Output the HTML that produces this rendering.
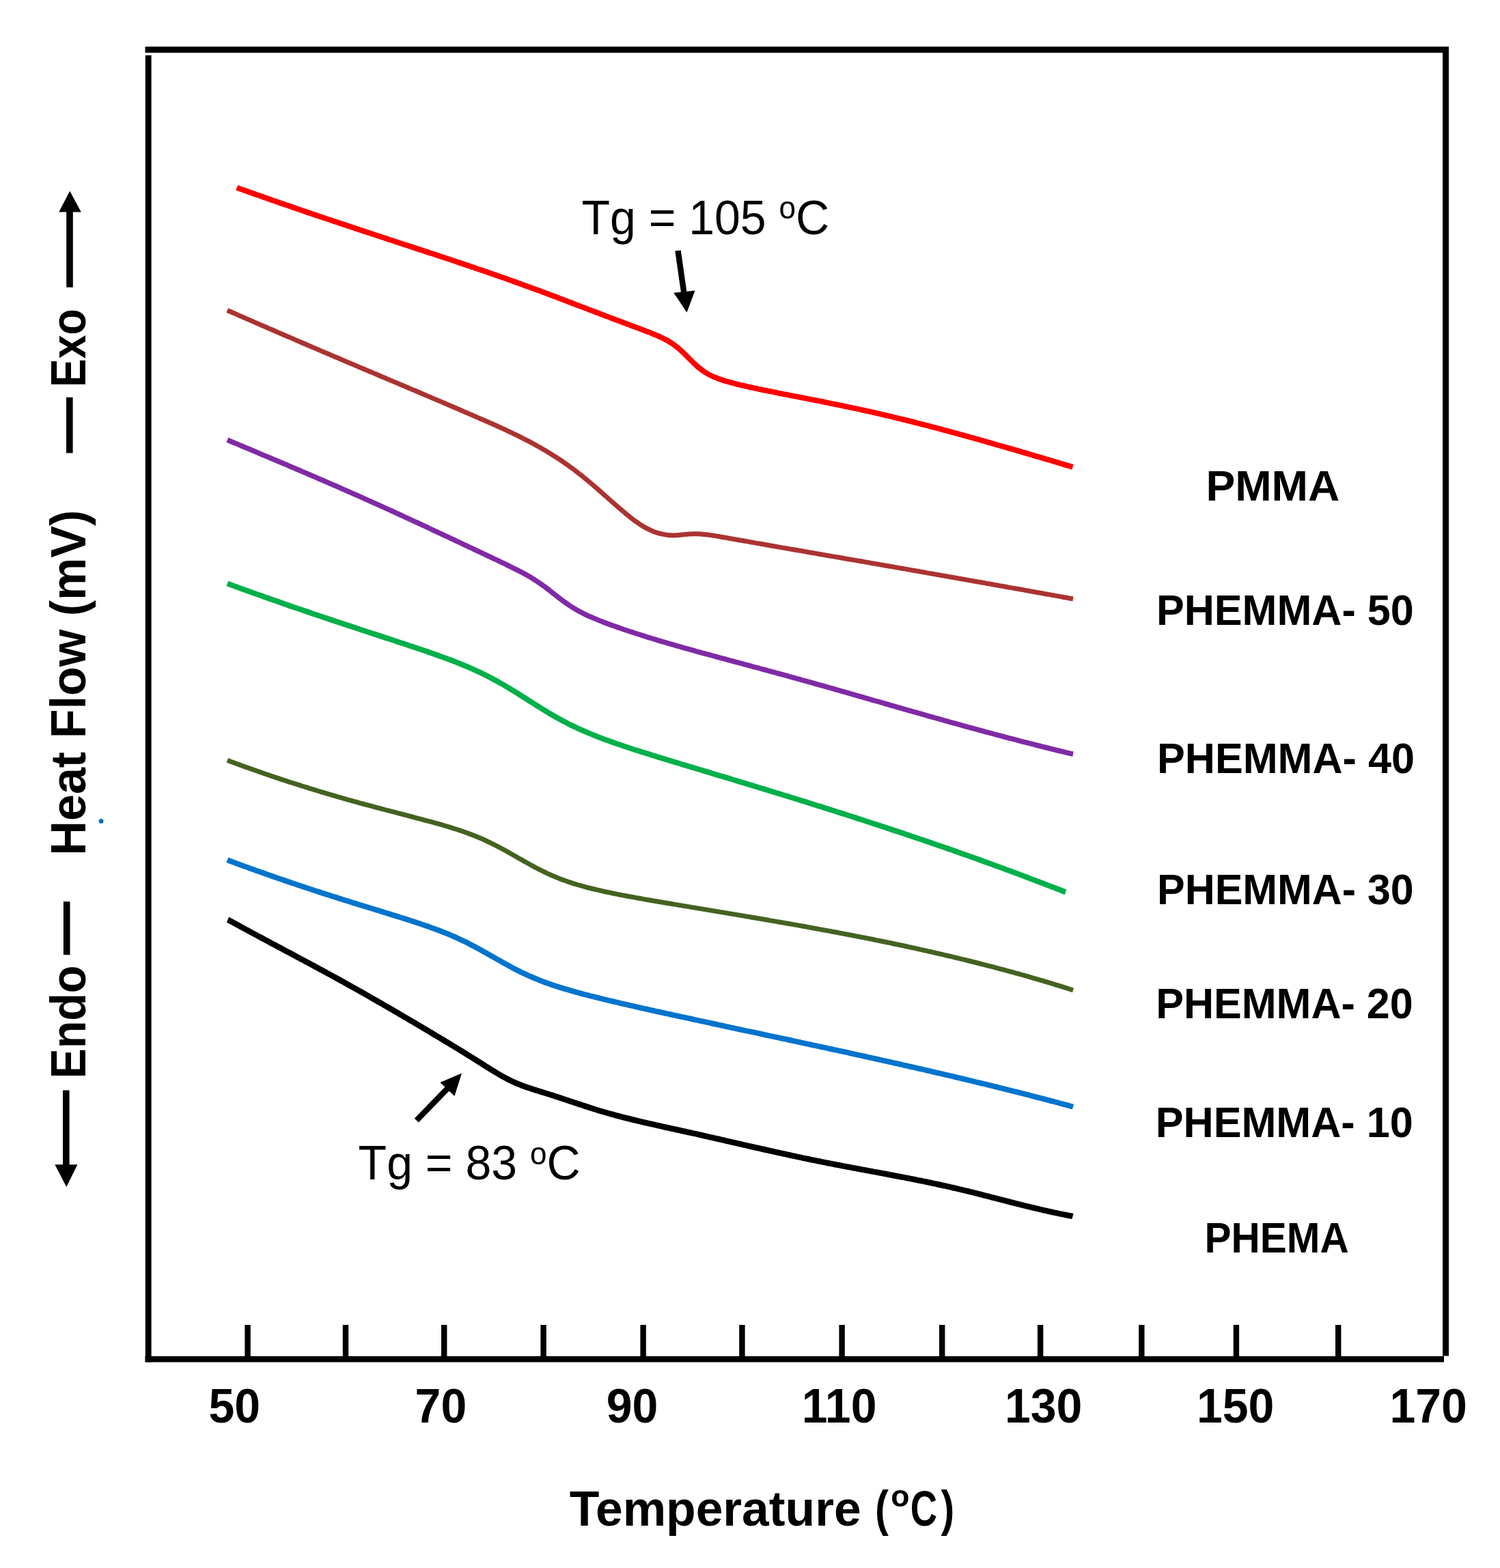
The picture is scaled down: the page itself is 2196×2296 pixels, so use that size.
<!DOCTYPE html>
<html lang="en"><head><meta charset="utf-8"><title>DSC thermograms</title>
<style>html,body{margin:0;padding:0;background:#fff;}svg{display:block;}text{font-family:"Liberation Sans",Arial,sans-serif;}.b{font-weight:bold;}</style></head><body>
<svg xmlns="http://www.w3.org/2000/svg" width="2196" height="2296" viewBox="0 0 2196 2296">
<rect x="0" y="0" width="2196" height="2296" fill="#fff"/>
<g fill="#000">
<rect x="212.5" y="68.3" width="1908.5" height="9"/>
<rect x="212.8" y="81" width="8.8" height="1913.5"/>
<rect x="2112" y="72.5" width="9" height="1913"/>
<rect x="212.5" y="1985.8" width="1901.5" height="8.8"/>
<rect x="358.4" y="1940" width="8.4" height="50"/>
<rect x="501.8" y="1940" width="8.4" height="50"/>
<rect x="646.0" y="1940" width="8.4" height="50"/>
<rect x="791.4" y="1940" width="8.4" height="50"/>
<rect x="937.4" y="1940" width="8.4" height="50"/>
<rect x="1082.2" y="1940" width="8.4" height="50"/>
<rect x="1228.4" y="1940" width="8.4" height="50"/>
<rect x="1375.0" y="1940" width="8.4" height="50"/>
<rect x="1518.9" y="1940" width="8.4" height="50"/>
<rect x="1667.1" y="1940" width="8.4" height="50"/>
<rect x="1805.7" y="1940" width="8.4" height="50"/>
<rect x="1955.0" y="1940" width="8.4" height="50"/>
</g>
<g fill="none" stroke-linecap="butt" stroke-linejoin="round">
<path d="M346.8,274.8 C347.8,275.2 350.8,276.3 352.8,277.0 C354.8,277.7 356.8,278.4 358.9,279.1 C360.9,279.8 362.9,280.5 364.9,281.3 C366.9,282.0 368.9,282.7 370.9,283.4 C372.9,284.1 374.9,284.8 376.9,285.5 C378.9,286.2 381.0,286.9 383.0,287.6 C385.0,288.3 387.0,289.0 389.0,289.8 C391.0,290.5 393.0,291.2 395.0,291.9 C397.0,292.6 399.0,293.3 401.1,294.0 C403.1,294.7 405.1,295.4 407.1,296.1 C409.1,296.8 411.1,297.5 413.1,298.1 C415.1,298.8 417.1,299.5 419.1,300.2 C421.1,300.9 423.2,301.6 425.2,302.3 C427.2,303.0 429.2,303.7 431.2,304.4 C433.2,305.1 435.2,305.8 437.2,306.5 C439.2,307.1 441.2,307.8 443.2,308.5 C445.3,309.2 447.3,309.9 449.3,310.6 C451.3,311.3 453.3,311.9 455.3,312.6 C457.3,313.3 459.3,314.0 461.3,314.7 C463.3,315.3 465.4,316.0 467.4,316.7 C469.4,317.4 471.4,318.1 473.4,318.7 C475.4,319.4 477.4,320.1 479.4,320.8 C481.4,321.5 483.4,322.1 485.4,322.8 C487.5,323.5 489.5,324.1 491.5,324.8 C493.5,325.5 495.5,326.2 497.5,326.8 C499.5,327.5 501.5,328.2 503.5,328.9 C505.5,329.5 507.5,330.2 509.6,330.9 C511.6,331.5 513.6,332.2 515.6,332.9 C517.6,333.5 519.6,334.2 521.6,334.9 C523.6,335.5 525.6,336.2 527.6,336.9 C529.7,337.5 531.7,338.2 533.7,338.9 C535.7,339.5 537.7,340.2 539.7,340.8 C541.7,341.5 543.7,342.2 545.7,342.8 C547.7,343.5 549.7,344.2 551.8,344.8 C553.8,345.5 555.8,346.1 557.8,346.8 C559.8,347.5 561.8,348.1 563.8,348.8 C565.8,349.4 567.8,350.1 569.8,350.8 C571.8,351.4 573.9,352.1 575.9,352.7 C577.9,353.4 579.9,354.1 581.9,354.7 C583.9,355.4 585.9,356.0 587.9,356.7 C589.9,357.4 591.9,358.0 594.0,358.7 C596.0,359.3 598.0,360.0 600.0,360.7 C602.0,361.3 604.0,362.0 606.0,362.6 C608.0,363.3 610.0,363.9 612.0,364.6 C614.0,365.3 616.1,365.9 618.1,366.6 C620.1,367.2 622.1,367.9 624.1,368.6 C626.1,369.2 628.1,369.9 630.1,370.6 C632.1,371.2 634.1,371.9 636.1,372.5 C638.2,373.2 640.2,373.9 642.2,374.5 C644.2,375.2 646.2,375.9 648.2,376.5 C650.2,377.2 652.2,377.9 654.2,378.5 C656.2,379.2 658.3,379.9 660.3,380.5 C662.3,381.2 664.3,381.9 666.3,382.5 C668.3,383.2 670.3,383.9 672.3,384.6 C674.3,385.2 676.3,385.9 678.3,386.6 C680.4,387.3 682.4,387.9 684.4,388.6 C686.4,389.3 688.4,390.0 690.4,390.7 C692.4,391.3 694.4,392.0 696.4,392.7 C698.4,393.4 700.4,394.1 702.5,394.8 C704.5,395.4 706.5,396.1 708.5,396.8 C710.5,397.5 712.5,398.2 714.5,398.9 C716.5,399.6 718.5,400.3 720.5,401.0 C722.6,401.7 724.6,402.4 726.6,403.1 C728.6,403.8 730.6,404.5 732.6,405.2 C734.6,405.9 736.6,406.6 738.6,407.3 C740.6,408.0 742.6,408.7 744.7,409.5 C746.7,410.2 748.7,410.9 750.7,411.6 C752.7,412.3 754.7,413.0 756.7,413.8 C758.7,414.5 760.7,415.2 762.7,415.9 C764.7,416.7 766.8,417.4 768.8,418.1 C770.8,418.8 772.8,419.6 774.8,420.3 C776.8,421.0 778.8,421.8 780.8,422.5 C782.8,423.3 784.8,424.0 786.8,424.7 C788.9,425.5 790.9,426.2 792.9,427.0 C794.9,427.7 796.9,428.5 798.9,429.2 C800.9,430.0 802.9,430.7 804.9,431.5 C806.9,432.2 809.0,433.0 811.0,433.7 C813.0,434.5 815.0,435.2 817.0,436.0 C819.0,436.8 821.0,437.5 823.0,438.3 C825.0,439.0 827.0,439.8 829.0,440.6 C831.1,441.3 833.1,442.1 835.1,442.9 C837.1,443.6 839.1,444.4 841.1,445.2 C843.1,445.9 845.1,446.7 847.1,447.5 C849.1,448.2 851.1,449.0 853.2,449.8 C855.2,450.5 857.2,451.3 859.2,452.1 C861.2,452.9 863.2,453.6 865.2,454.4 C867.2,455.2 869.2,455.9 871.2,456.7 C873.3,457.5 875.3,458.2 877.3,459.0 C879.3,459.8 881.3,460.5 883.3,461.3 C885.3,462.1 887.3,462.8 889.3,463.6 C891.3,464.4 893.3,465.1 895.4,465.9 C897.4,466.6 899.4,467.4 901.4,468.2 C903.4,468.9 905.4,469.7 907.4,470.4 C909.4,471.2 911.4,471.9 913.4,472.7 C915.4,473.4 917.5,474.2 919.5,474.9 C921.5,475.7 923.5,476.4 925.5,477.2 C927.5,477.9 929.5,478.7 931.5,479.4 C933.5,480.2 935.5,480.9 937.6,481.7 C939.6,482.4 941.6,483.2 943.6,484.0 C945.6,484.7 947.6,485.5 949.6,486.3 C951.6,487.0 953.6,487.8 955.6,488.7 C957.6,489.5 959.7,490.3 961.7,491.2 C963.7,492.0 965.7,492.9 967.7,493.9 C969.7,494.8 971.7,495.8 973.7,496.9 C975.7,497.9 977.7,499.0 979.7,500.3 C981.8,501.5 983.8,502.8 985.8,504.2 C987.8,505.6 989.8,507.2 991.8,508.8 C993.8,510.5 995.8,512.2 997.8,514.1 C999.8,515.9 1001.9,517.9 1003.9,519.9 C1005.9,521.9 1007.9,524.0 1009.9,526.0 C1011.9,528.0 1013.9,530.0 1015.9,531.9 C1017.9,533.8 1019.9,535.7 1021.9,537.4 C1024.0,539.1 1026.0,540.7 1028.0,542.1 C1030.0,543.6 1032.0,544.9 1034.0,546.1 C1036.0,547.3 1038.0,548.4 1040.0,549.5 C1042.0,550.5 1044.0,551.4 1046.1,552.2 C1048.1,553.1 1050.1,553.9 1052.1,554.6 C1054.1,555.3 1056.1,556.0 1058.1,556.7 C1060.1,557.3 1062.1,557.9 1064.1,558.5 C1066.2,559.1 1068.2,559.7 1070.2,560.2 C1072.2,560.7 1074.2,561.3 1076.2,561.8 C1078.2,562.3 1080.2,562.8 1082.2,563.3 C1084.2,563.7 1086.2,564.2 1088.3,564.7 C1090.3,565.2 1092.3,565.6 1094.3,566.1 C1096.3,566.5 1098.3,567.0 1100.3,567.4 C1102.3,567.8 1104.3,568.3 1106.3,568.7 C1108.3,569.1 1110.4,569.6 1112.4,570.0 C1114.4,570.4 1116.4,570.8 1118.4,571.3 C1120.4,571.7 1122.4,572.1 1124.4,572.5 C1126.4,572.9 1128.4,573.3 1130.5,573.7 C1132.5,574.1 1134.5,574.5 1136.5,574.9 C1138.5,575.3 1140.5,575.7 1142.5,576.1 C1144.5,576.5 1146.5,576.9 1148.5,577.3 C1150.5,577.7 1152.6,578.1 1154.6,578.5 C1156.6,578.9 1158.6,579.3 1160.6,579.7 C1162.6,580.1 1164.6,580.5 1166.6,580.8 C1168.6,581.2 1170.6,581.6 1172.6,582.0 C1174.7,582.4 1176.7,582.8 1178.7,583.2 C1180.7,583.6 1182.7,584.0 1184.7,584.4 C1186.7,584.8 1188.7,585.2 1190.7,585.5 C1192.7,585.9 1194.7,586.3 1196.8,586.7 C1198.8,587.1 1200.8,587.5 1202.8,587.9 C1204.8,588.3 1206.8,588.7 1208.8,589.1 C1210.8,589.5 1212.8,589.9 1214.8,590.3 C1216.9,590.7 1218.9,591.1 1220.9,591.6 C1222.9,592.0 1224.9,592.4 1226.9,592.8 C1228.9,593.2 1230.9,593.6 1232.9,594.0 C1234.9,594.4 1236.9,594.9 1239.0,595.3 C1241.0,595.7 1243.0,596.1 1245.0,596.6 C1247.0,597.0 1249.0,597.4 1251.0,597.8 C1253.0,598.3 1255.0,598.7 1257.0,599.1 C1259.0,599.6 1261.1,600.0 1263.1,600.5 C1265.1,600.9 1267.1,601.3 1269.1,601.8 C1271.1,602.2 1273.1,602.7 1275.1,603.1 C1277.1,603.6 1279.1,604.0 1281.2,604.5 C1283.2,605.0 1285.2,605.4 1287.2,605.9 C1289.2,606.4 1291.2,606.8 1293.2,607.3 C1295.2,607.8 1297.2,608.2 1299.2,608.7 C1301.2,609.2 1303.3,609.7 1305.3,610.1 C1307.3,610.6 1309.3,611.1 1311.3,611.6 C1313.3,612.1 1315.3,612.6 1317.3,613.1 C1319.3,613.5 1321.3,614.0 1323.3,614.5 C1325.4,615.0 1327.4,615.5 1329.4,616.0 C1331.4,616.5 1333.4,617.0 1335.4,617.5 C1337.4,618.0 1339.4,618.6 1341.4,619.1 C1343.4,619.6 1345.5,620.1 1347.5,620.6 C1349.5,621.1 1351.5,621.6 1353.5,622.2 C1355.5,622.7 1357.5,623.2 1359.5,623.7 C1361.5,624.3 1363.5,624.8 1365.5,625.3 C1367.6,625.8 1369.6,626.4 1371.6,626.9 C1373.6,627.4 1375.6,628.0 1377.6,628.5 C1379.6,629.0 1381.6,629.6 1383.6,630.1 C1385.6,630.7 1387.6,631.2 1389.7,631.7 C1391.7,632.3 1393.7,632.8 1395.7,633.4 C1397.7,633.9 1399.7,634.5 1401.7,635.0 C1403.7,635.6 1405.7,636.1 1407.7,636.7 C1409.8,637.2 1411.8,637.8 1413.8,638.4 C1415.8,638.9 1417.8,639.5 1419.8,640.0 C1421.8,640.6 1423.8,641.2 1425.8,641.7 C1427.8,642.3 1429.8,642.8 1431.9,643.4 C1433.9,644.0 1435.9,644.5 1437.9,645.1 C1439.9,645.7 1441.9,646.2 1443.9,646.8 C1445.9,647.4 1447.9,648.0 1449.9,648.5 C1451.9,649.1 1454.0,649.7 1456.0,650.3 C1458.0,650.8 1460.0,651.4 1462.0,652.0 C1464.0,652.6 1466.0,653.1 1468.0,653.7 C1470.0,654.3 1472.0,654.9 1474.1,655.5 C1476.1,656.0 1478.1,656.6 1480.1,657.2 C1482.1,657.8 1484.1,658.4 1486.1,658.9 C1488.1,659.5 1490.1,660.1 1492.1,660.7 C1494.1,661.3 1496.2,661.9 1498.2,662.5 C1500.2,663.0 1502.2,663.6 1504.2,664.2 C1506.2,664.8 1508.2,665.4 1510.2,666.0 C1512.2,666.6 1514.2,667.2 1516.2,667.8 C1518.3,668.4 1520.3,669.0 1522.3,669.5 C1524.3,670.1 1526.3,670.7 1528.3,671.3 C1530.3,671.9 1532.3,672.5 1534.3,673.1 C1536.3,673.7 1538.4,674.3 1540.4,674.9 C1542.4,675.5 1544.4,676.1 1546.4,676.7 C1548.4,677.3 1550.4,677.9 1552.4,678.5 C1554.4,679.1 1556.4,679.7 1558.4,680.3 C1560.5,680.9 1562.5,681.5 1564.5,682.1 C1566.5,682.7 1569.5,683.6 1570.5,683.9" stroke="#ff0000" stroke-width="8.0"/>
<path d="M332.8,454.4 C333.5,454.7 335.5,455.6 336.8,456.1 C338.1,456.7 339.5,457.3 340.8,457.9 C342.1,458.5 343.5,459.1 344.8,459.6 C346.2,460.2 347.5,460.8 348.8,461.4 C350.2,462.0 351.5,462.6 352.8,463.1 C354.2,463.7 355.5,464.3 356.8,464.9 C358.2,465.5 359.5,466.1 360.8,466.6 C362.2,467.2 363.5,467.8 364.9,468.4 C366.2,469.0 367.5,469.6 368.9,470.1 C370.2,470.7 371.5,471.3 372.9,471.9 C374.2,472.5 375.5,473.0 376.9,473.6 C378.2,474.2 379.5,474.8 380.9,475.4 C382.2,475.9 383.6,476.5 384.9,477.1 C386.2,477.7 387.6,478.3 388.9,478.8 C390.2,479.4 391.6,480.0 392.9,480.6 C394.2,481.2 395.6,481.7 396.9,482.3 C398.2,482.9 399.6,483.5 400.9,484.0 C402.3,484.6 403.6,485.2 404.9,485.8 C406.3,486.4 407.6,486.9 408.9,487.5 C410.3,488.1 411.6,488.7 412.9,489.2 C414.3,489.8 415.6,490.4 416.9,491.0 C418.3,491.5 419.6,492.1 421.0,492.7 C422.3,493.3 423.6,493.8 425.0,494.4 C426.3,495.0 427.6,495.6 429.0,496.1 C430.3,496.7 431.6,497.3 433.0,497.9 C434.3,498.4 435.6,499.0 437.0,499.6 C438.3,500.2 439.7,500.7 441.0,501.3 C442.3,501.9 443.7,502.4 445.0,503.0 C446.3,503.6 447.7,504.2 449.0,504.7 C450.3,505.3 451.7,505.9 453.0,506.5 C454.3,507.0 455.7,507.6 457.0,508.2 C458.4,508.7 459.7,509.3 461.0,509.9 C462.4,510.5 463.7,511.0 465.0,511.6 C466.4,512.2 467.7,512.7 469.0,513.3 C470.4,513.9 471.7,514.5 473.0,515.0 C474.4,515.6 475.7,516.2 477.1,516.7 C478.4,517.3 479.7,517.9 481.1,518.4 C482.4,519.0 483.7,519.6 485.1,520.1 C486.4,520.7 487.7,521.3 489.1,521.9 C490.4,522.4 491.7,523.0 493.1,523.6 C494.4,524.1 495.8,524.7 497.1,525.3 C498.4,525.8 499.8,526.4 501.1,527.0 C502.4,527.5 503.8,528.1 505.1,528.7 C506.4,529.2 507.8,529.8 509.1,530.4 C510.4,530.9 511.8,531.5 513.1,532.1 C514.5,532.6 515.8,533.2 517.1,533.8 C518.5,534.3 519.8,534.9 521.1,535.5 C522.5,536.0 523.8,536.6 525.1,537.2 C526.5,537.7 527.8,538.3 529.1,538.9 C530.5,539.4 531.8,540.0 533.2,540.6 C534.5,541.1 535.8,541.7 537.2,542.3 C538.5,542.8 539.8,543.4 541.2,544.0 C542.5,544.5 543.8,545.1 545.2,545.6 C546.5,546.2 547.8,546.8 549.2,547.3 C550.5,547.9 551.9,548.5 553.2,549.0 C554.5,549.6 555.9,550.2 557.2,550.7 C558.5,551.3 559.9,551.9 561.2,552.4 C562.5,553.0 563.9,553.6 565.2,554.1 C566.5,554.7 567.9,555.3 569.2,555.8 C570.6,556.4 571.9,556.9 573.2,557.5 C574.6,558.1 575.9,558.6 577.2,559.2 C578.6,559.8 579.9,560.3 581.2,560.9 C582.6,561.5 583.9,562.0 585.2,562.6 C586.6,563.2 587.9,563.7 589.3,564.3 C590.6,564.9 591.9,565.4 593.3,566.0 C594.6,566.6 595.9,567.1 597.3,567.7 C598.6,568.3 599.9,568.8 601.3,569.4 C602.6,570.0 603.9,570.5 605.3,571.1 C606.6,571.6 608.0,572.2 609.3,572.8 C610.6,573.3 612.0,573.9 613.3,574.5 C614.6,575.1 616.0,575.6 617.3,576.2 C618.6,576.8 620.0,577.3 621.3,577.9 C622.6,578.5 624.0,579.0 625.3,579.6 C626.7,580.2 628.0,580.7 629.3,581.3 C630.7,581.9 632.0,582.4 633.3,583.0 C634.7,583.6 636.0,584.1 637.3,584.7 C638.7,585.3 640.0,585.8 641.3,586.4 C642.7,587.0 644.0,587.6 645.4,588.1 C646.7,588.7 648.0,589.3 649.4,589.8 C650.7,590.4 652.0,591.0 653.4,591.6 C654.7,592.1 656.0,592.7 657.4,593.3 C658.7,593.8 660.0,594.4 661.4,595.0 C662.7,595.6 664.1,596.1 665.4,596.7 C666.7,597.3 668.1,597.8 669.4,598.4 C670.7,599.0 672.1,599.6 673.4,600.1 C674.7,600.7 676.1,601.3 677.4,601.9 C678.7,602.4 680.1,603.0 681.4,603.6 C682.8,604.2 684.1,604.7 685.4,605.3 C686.8,605.9 688.1,606.5 689.4,607.0 C690.8,607.6 692.1,608.2 693.4,608.8 C694.8,609.4 696.1,609.9 697.4,610.5 C698.8,611.1 700.1,611.7 701.5,612.3 C702.8,612.8 704.1,613.4 705.5,614.0 C706.8,614.6 708.1,615.2 709.5,615.7 C710.8,616.3 712.1,616.9 713.5,617.5 C714.8,618.1 716.1,618.7 717.5,619.3 C718.8,619.8 720.2,620.4 721.5,621.0 C722.8,621.6 724.2,622.2 725.5,622.8 C726.8,623.4 728.2,624.0 729.5,624.6 C730.8,625.2 732.2,625.8 733.5,626.4 C734.8,627.0 736.2,627.6 737.5,628.3 C738.9,628.9 740.2,629.5 741.5,630.1 C742.9,630.7 744.2,631.4 745.5,632.0 C746.9,632.6 748.2,633.3 749.5,633.9 C750.9,634.5 752.2,635.2 753.5,635.8 C754.9,636.5 756.2,637.1 757.6,637.8 C758.9,638.4 760.2,639.1 761.6,639.8 C762.9,640.4 764.2,641.1 765.6,641.8 C766.9,642.5 768.2,643.2 769.6,643.8 C770.9,644.5 772.2,645.2 773.6,645.9 C774.9,646.6 776.3,647.3 777.6,648.1 C778.9,648.8 780.3,649.5 781.6,650.2 C782.9,651.0 784.3,651.7 785.6,652.4 C786.9,653.2 788.3,653.9 789.6,654.7 C790.9,655.4 792.3,656.2 793.6,657.0 C795.0,657.8 796.3,658.5 797.6,659.3 C799.0,660.1 800.3,660.9 801.6,661.7 C803.0,662.5 804.3,663.3 805.6,664.2 C807.0,665.0 808.3,665.8 809.6,666.7 C811.0,667.5 812.3,668.4 813.7,669.2 C815.0,670.1 816.3,671.0 817.7,671.8 C819.0,672.7 820.3,673.6 821.7,674.5 C823.0,675.4 824.3,676.3 825.7,677.2 C827.0,678.2 828.3,679.1 829.7,680.0 C831.0,681.0 832.4,681.9 833.7,682.9 C835.0,683.9 836.4,684.8 837.7,685.8 C839.0,686.8 840.4,687.8 841.7,688.8 C843.0,689.8 844.4,690.8 845.7,691.9 C847.0,692.9 848.4,694.0 849.7,695.0 C851.1,696.1 852.4,697.1 853.7,698.2 C855.1,699.3 856.4,700.4 857.7,701.5 C859.1,702.6 860.4,703.7 861.7,704.8 C863.1,706.0 864.4,707.1 865.7,708.2 C867.1,709.4 868.4,710.5 869.8,711.7 C871.1,712.8 872.4,714.0 873.8,715.1 C875.1,716.3 876.4,717.5 877.8,718.6 C879.1,719.8 880.4,721.0 881.8,722.2 C883.1,723.3 884.4,724.5 885.8,725.7 C887.1,726.9 888.5,728.0 889.8,729.2 C891.1,730.4 892.5,731.6 893.8,732.8 C895.1,733.9 896.5,735.1 897.8,736.3 C899.1,737.5 900.5,738.6 901.8,739.8 C903.1,741.0 904.5,742.1 905.8,743.3 C907.2,744.4 908.5,745.6 909.8,746.7 C911.2,747.9 912.5,749.0 913.8,750.1 C915.2,751.2 916.5,752.4 917.8,753.5 C919.2,754.6 920.5,755.6 921.8,756.7 C923.2,757.8 924.5,758.8 925.9,759.9 C927.2,760.9 928.5,761.9 929.9,762.9 C931.2,763.8 932.5,764.8 933.9,765.7 C935.2,766.7 936.5,767.6 937.9,768.4 C939.2,769.3 940.5,770.1 941.9,770.9 C943.2,771.7 944.6,772.5 945.9,773.2 C947.2,773.9 948.6,774.6 949.9,775.2 C951.2,775.9 952.6,776.5 953.9,777.1 C955.2,777.6 956.6,778.2 957.9,778.7 C959.2,779.2 960.6,779.6 961.9,780.0 C963.3,780.5 964.6,780.8 965.9,781.2 C967.3,781.6 968.6,781.9 969.9,782.2 C971.3,782.5 972.6,782.7 973.9,782.9 C975.3,783.1 976.6,783.3 977.9,783.5 C979.3,783.6 980.6,783.7 982.0,783.8 C983.3,783.8 984.6,783.9 986.0,783.9 C987.3,783.9 988.6,783.8 990.0,783.7 C991.3,783.7 992.6,783.5 994.0,783.4 C995.3,783.3 996.6,783.2 998.0,783.0 C999.3,782.9 1000.7,782.8 1002.0,782.6 C1003.3,782.5 1004.7,782.3 1006.0,782.2 C1007.3,782.1 1008.7,782.0 1010.0,781.9 C1011.3,781.8 1012.7,781.8 1014.0,781.8 C1015.3,781.7 1016.7,781.7 1018.0,781.7 C1019.4,781.8 1020.7,781.8 1022.0,781.8 C1023.4,781.9 1024.7,782.0 1026.0,782.1 C1027.4,782.2 1028.7,782.3 1030.0,782.4 C1031.4,782.5 1032.7,782.7 1034.0,782.8 C1035.4,783.0 1036.7,783.1 1038.1,783.3 C1039.4,783.5 1040.7,783.7 1042.1,783.9 C1043.4,784.1 1044.7,784.3 1046.1,784.5 C1047.4,784.7 1048.7,784.9 1050.1,785.2 C1051.4,785.4 1052.7,785.6 1054.1,785.8 C1055.4,786.1 1056.8,786.3 1058.1,786.6 C1059.4,786.8 1060.8,787.0 1062.1,787.3 C1063.4,787.5 1064.8,787.7 1066.1,788.0 C1067.4,788.2 1068.8,788.5 1070.1,788.7 C1071.4,788.9 1072.8,789.2 1074.1,789.4 C1075.5,789.6 1076.8,789.9 1078.1,790.1 C1079.5,790.3 1080.8,790.6 1082.1,790.8 C1083.5,791.1 1084.8,791.3 1086.1,791.5 C1087.5,791.8 1088.8,792.0 1090.1,792.2 C1091.5,792.5 1092.8,792.7 1094.2,792.9 C1095.5,793.2 1096.8,793.4 1098.2,793.6 C1099.5,793.9 1100.8,794.1 1102.2,794.4 C1103.5,794.6 1104.8,794.8 1106.2,795.1 C1107.5,795.3 1108.8,795.5 1110.2,795.8 C1111.5,796.0 1112.9,796.2 1114.2,796.5 C1115.5,796.7 1116.9,796.9 1118.2,797.2 C1119.5,797.4 1120.9,797.6 1122.2,797.9 C1123.5,798.1 1124.9,798.3 1126.2,798.6 C1127.5,798.8 1128.9,799.0 1130.2,799.3 C1131.6,799.5 1132.9,799.7 1134.2,800.0 C1135.6,800.2 1136.9,800.4 1138.2,800.7 C1139.6,800.9 1140.9,801.1 1142.2,801.4 C1143.6,801.6 1144.9,801.8 1146.2,802.1 C1147.6,802.3 1148.9,802.5 1150.3,802.8 C1151.6,803.0 1152.9,803.2 1154.3,803.5 C1155.6,803.7 1156.9,803.9 1158.3,804.2 C1159.6,804.4 1160.9,804.6 1162.3,804.8 C1163.6,805.1 1164.9,805.3 1166.3,805.5 C1167.6,805.8 1169.0,806.0 1170.3,806.2 C1171.6,806.5 1173.0,806.7 1174.3,806.9 C1175.6,807.2 1177.0,807.4 1178.3,807.6 C1179.6,807.9 1181.0,808.1 1182.3,808.3 C1183.6,808.6 1185.0,808.8 1186.3,809.0 C1187.7,809.3 1189.0,809.5 1190.3,809.7 C1191.7,810.0 1193.0,810.2 1194.3,810.4 C1195.7,810.6 1197.0,810.9 1198.3,811.1 C1199.7,811.3 1201.0,811.6 1202.3,811.8 C1203.7,812.0 1205.0,812.3 1206.4,812.5 C1207.7,812.7 1209.0,813.0 1210.4,813.2 C1211.7,813.4 1213.0,813.7 1214.4,813.9 C1215.7,814.1 1217.0,814.4 1218.4,814.6 C1219.7,814.8 1221.0,815.0 1222.4,815.3 C1223.7,815.5 1225.1,815.7 1226.4,816.0 C1227.7,816.2 1229.1,816.4 1230.4,816.7 C1231.7,816.9 1233.1,817.1 1234.4,817.4 C1235.7,817.6 1237.1,817.8 1238.4,818.1 C1239.7,818.3 1241.1,818.5 1242.4,818.8 C1243.8,819.0 1245.1,819.2 1246.4,819.5 C1247.8,819.7 1249.1,819.9 1250.4,820.1 C1251.8,820.4 1253.1,820.6 1254.4,820.8 C1255.8,821.1 1257.1,821.3 1258.4,821.5 C1259.8,821.8 1261.1,822.0 1262.5,822.2 C1263.8,822.5 1265.1,822.7 1266.5,822.9 C1267.8,823.2 1269.1,823.4 1270.5,823.6 C1271.8,823.9 1273.1,824.1 1274.5,824.3 C1275.8,824.6 1277.1,824.8 1278.5,825.0 C1279.8,825.3 1281.2,825.5 1282.5,825.7 C1283.8,826.0 1285.2,826.2 1286.5,826.4 C1287.8,826.7 1289.2,826.9 1290.5,827.1 C1291.8,827.4 1293.2,827.6 1294.5,827.8 C1295.8,828.1 1297.2,828.3 1298.5,828.5 C1299.9,828.8 1301.2,829.0 1302.5,829.2 C1303.9,829.5 1305.2,829.7 1306.5,829.9 C1307.9,830.2 1309.2,830.4 1310.5,830.6 C1311.9,830.9 1313.2,831.1 1314.5,831.3 C1315.9,831.6 1317.2,831.8 1318.6,832.0 C1319.9,832.3 1321.2,832.5 1322.6,832.7 C1323.9,833.0 1325.2,833.2 1326.6,833.4 C1327.9,833.7 1329.2,833.9 1330.6,834.1 C1331.9,834.4 1333.2,834.6 1334.6,834.8 C1335.9,835.1 1337.3,835.3 1338.6,835.5 C1339.9,835.8 1341.3,836.0 1342.6,836.2 C1343.9,836.5 1345.3,836.7 1346.6,836.9 C1347.9,837.2 1349.3,837.4 1350.6,837.7 C1351.9,837.9 1353.3,838.1 1354.6,838.4 C1356.0,838.6 1357.3,838.8 1358.6,839.1 C1360.0,839.3 1361.3,839.5 1362.6,839.8 C1364.0,840.0 1365.3,840.2 1366.6,840.5 C1368.0,840.7 1369.3,840.9 1370.6,841.2 C1372.0,841.4 1373.3,841.6 1374.7,841.9 C1376.0,842.1 1377.3,842.4 1378.7,842.6 C1380.0,842.8 1381.3,843.1 1382.7,843.3 C1384.0,843.5 1385.3,843.8 1386.7,844.0 C1388.0,844.2 1389.3,844.5 1390.7,844.7 C1392.0,844.9 1393.4,845.2 1394.7,845.4 C1396.0,845.7 1397.4,845.9 1398.7,846.1 C1400.0,846.4 1401.4,846.6 1402.7,846.8 C1404.0,847.1 1405.4,847.3 1406.7,847.5 C1408.0,847.8 1409.4,848.0 1410.7,848.3 C1412.1,848.5 1413.4,848.7 1414.7,849.0 C1416.1,849.2 1417.4,849.4 1418.7,849.7 C1420.1,849.9 1421.4,850.1 1422.7,850.4 C1424.1,850.6 1425.4,850.9 1426.7,851.1 C1428.1,851.3 1429.4,851.6 1430.8,851.8 C1432.1,852.0 1433.4,852.3 1434.8,852.5 C1436.1,852.8 1437.4,853.0 1438.8,853.2 C1440.1,853.5 1441.4,853.7 1442.8,853.9 C1444.1,854.2 1445.4,854.4 1446.8,854.7 C1448.1,854.9 1449.5,855.1 1450.8,855.4 C1452.1,855.6 1453.5,855.8 1454.8,856.1 C1456.1,856.3 1457.5,856.6 1458.8,856.8 C1460.1,857.0 1461.5,857.3 1462.8,857.5 C1464.1,857.7 1465.5,858.0 1466.8,858.2 C1468.2,858.5 1469.5,858.7 1470.8,858.9 C1472.2,859.2 1473.5,859.4 1474.8,859.7 C1476.2,859.9 1477.5,860.1 1478.8,860.4 C1480.2,860.6 1481.5,860.8 1482.8,861.1 C1484.2,861.3 1485.5,861.6 1486.9,861.8 C1488.2,862.0 1489.5,862.3 1490.9,862.5 C1492.2,862.8 1493.5,863.0 1494.9,863.2 C1496.2,863.5 1497.5,863.7 1498.9,863.9 C1500.2,864.2 1501.5,864.4 1502.9,864.7 C1504.2,864.9 1505.6,865.1 1506.9,865.4 C1508.2,865.6 1509.6,865.9 1510.9,866.1 C1512.2,866.3 1513.6,866.6 1514.9,866.8 C1516.2,867.1 1517.6,867.3 1518.9,867.5 C1520.2,867.8 1521.6,868.0 1522.9,868.3 C1524.3,868.5 1525.6,868.7 1526.9,869.0 C1528.3,869.2 1529.6,869.5 1530.9,869.7 C1532.3,869.9 1533.6,870.2 1534.9,870.4 C1536.3,870.7 1537.6,870.9 1538.9,871.1 C1540.3,871.4 1541.6,871.6 1543.0,871.9 C1544.3,872.1 1545.6,872.3 1547.0,872.6 C1548.3,872.8 1549.6,873.1 1551.0,873.3 C1552.3,873.5 1553.6,873.8 1555.0,874.0 C1556.3,874.3 1557.6,874.5 1559.0,874.8 C1560.3,875.0 1561.7,875.2 1563.0,875.5 C1564.3,875.7 1565.7,876.0 1567.0,876.2 C1568.3,876.4 1570.3,876.8 1571.0,876.9" stroke="#ab3331" stroke-width="7.0"/>
<path d="M332.8,644.2 C333.8,644.6 336.8,645.9 338.8,646.7 C340.8,647.5 342.8,648.4 344.8,649.2 C346.8,650.1 348.8,650.9 350.8,651.7 C352.8,652.6 354.8,653.4 356.8,654.3 C358.8,655.1 360.8,655.9 362.9,656.8 C364.9,657.6 366.9,658.5 368.9,659.3 C370.9,660.1 372.9,661.0 374.9,661.8 C376.9,662.7 378.9,663.5 380.9,664.4 C382.9,665.2 384.9,666.0 386.9,666.9 C388.9,667.7 390.9,668.6 392.9,669.4 C394.9,670.3 396.9,671.1 398.9,672.0 C400.9,672.8 402.9,673.7 404.9,674.5 C406.9,675.4 408.9,676.2 410.9,677.1 C412.9,677.9 414.9,678.7 416.9,679.6 C419.0,680.4 421.0,681.3 423.0,682.2 C425.0,683.0 427.0,683.9 429.0,684.7 C431.0,685.6 433.0,686.4 435.0,687.3 C437.0,688.1 439.0,689.0 441.0,689.8 C443.0,690.7 445.0,691.5 447.0,692.4 C449.0,693.3 451.0,694.1 453.0,695.0 C455.0,695.8 457.0,696.7 459.0,697.6 C461.0,698.4 463.0,699.3 465.0,700.2 C467.0,701.0 469.0,701.9 471.0,702.7 C473.0,703.6 475.1,704.5 477.1,705.3 C479.1,706.2 481.1,707.1 483.1,708.0 C485.1,708.8 487.1,709.7 489.1,710.6 C491.1,711.4 493.1,712.3 495.1,713.2 C497.1,714.1 499.1,714.9 501.1,715.8 C503.1,716.7 505.1,717.6 507.1,718.5 C509.1,719.3 511.1,720.2 513.1,721.1 C515.1,722.0 517.1,722.9 519.1,723.8 C521.1,724.6 523.1,725.5 525.1,726.4 C527.1,727.3 529.1,728.2 531.2,729.1 C533.2,730.0 535.2,730.9 537.2,731.8 C539.2,732.7 541.2,733.6 543.2,734.5 C545.2,735.4 547.2,736.3 549.2,737.2 C551.2,738.1 553.2,739.0 555.2,739.9 C557.2,740.8 559.2,741.7 561.2,742.6 C563.2,743.5 565.2,744.4 567.2,745.3 C569.2,746.2 571.2,747.1 573.2,748.0 C575.2,748.9 577.2,749.9 579.2,750.8 C581.2,751.7 583.2,752.6 585.2,753.5 C587.3,754.4 589.3,755.4 591.3,756.3 C593.3,757.2 595.3,758.1 597.3,759.1 C599.3,760.0 601.3,760.9 603.3,761.8 C605.3,762.8 607.3,763.7 609.3,764.6 C611.3,765.5 613.3,766.5 615.3,767.4 C617.3,768.3 619.3,769.3 621.3,770.2 C623.3,771.1 625.3,772.1 627.3,773.0 C629.3,774.0 631.3,774.9 633.3,775.8 C635.3,776.8 637.3,777.7 639.3,778.6 C641.3,779.6 643.4,780.5 645.4,781.5 C647.4,782.4 649.4,783.3 651.4,784.3 C653.4,785.2 655.4,786.2 657.4,787.1 C659.4,788.1 661.4,789.0 663.4,789.9 C665.4,790.9 667.4,791.8 669.4,792.8 C671.4,793.7 673.4,794.7 675.4,795.6 C677.4,796.6 679.4,797.5 681.4,798.4 C683.4,799.4 685.4,800.3 687.4,801.3 C689.4,802.2 691.4,803.2 693.4,804.1 C695.4,805.1 697.4,806.0 699.5,806.9 C701.5,807.9 703.5,808.8 705.5,809.8 C707.5,810.7 709.5,811.7 711.5,812.6 C713.5,813.6 715.5,814.5 717.5,815.4 C719.5,816.4 721.5,817.3 723.5,818.3 C725.5,819.2 727.5,820.2 729.5,821.1 C731.5,822.1 733.5,823.0 735.5,824.0 C737.5,825.0 739.5,825.9 741.5,826.9 C743.5,827.9 745.5,828.8 747.5,829.8 C749.5,830.8 751.5,831.8 753.5,832.8 C755.6,833.8 757.6,834.8 759.6,835.9 C761.6,836.9 763.6,837.9 765.6,839.0 C767.6,840.1 769.6,841.2 771.6,842.3 C773.6,843.5 775.6,844.6 777.6,845.8 C779.6,847.1 781.6,848.3 783.6,849.6 C785.6,850.9 787.6,852.2 789.6,853.6 C791.6,854.9 793.6,856.4 795.6,857.8 C797.6,859.3 799.6,860.8 801.6,862.3 C803.6,863.9 805.6,865.4 807.6,867.0 C809.6,868.6 811.7,870.2 813.7,871.8 C815.7,873.3 817.7,874.9 819.7,876.5 C821.7,878.0 823.7,879.5 825.7,881.0 C827.7,882.4 829.7,883.9 831.7,885.2 C833.7,886.6 835.7,887.9 837.7,889.1 C839.7,890.4 841.7,891.6 843.7,892.8 C845.7,893.9 847.7,895.0 849.7,896.1 C851.7,897.1 853.7,898.1 855.7,899.1 C857.7,900.1 859.7,901.0 861.7,902.0 C863.7,902.9 865.7,903.8 867.8,904.6 C869.8,905.5 871.8,906.3 873.8,907.1 C875.8,908.0 877.8,908.8 879.8,909.5 C881.8,910.3 883.8,911.1 885.8,911.9 C887.8,912.6 889.8,913.4 891.8,914.1 C893.8,914.8 895.8,915.6 897.8,916.3 C899.8,917.0 901.8,917.7 903.8,918.4 C905.8,919.1 907.8,919.8 909.8,920.5 C911.8,921.2 913.8,921.9 915.8,922.5 C917.8,923.2 919.8,923.9 921.8,924.5 C923.9,925.2 925.9,925.9 927.9,926.5 C929.9,927.2 931.9,927.8 933.9,928.5 C935.9,929.1 937.9,929.7 939.9,930.4 C941.9,931.0 943.9,931.6 945.9,932.3 C947.9,932.9 949.9,933.5 951.9,934.1 C953.9,934.7 955.9,935.3 957.9,935.9 C959.9,936.6 961.9,937.2 963.9,937.8 C965.9,938.4 967.9,939.0 969.9,939.6 C971.9,940.2 973.9,940.7 975.9,941.3 C977.9,941.9 979.9,942.5 982.0,943.1 C984.0,943.7 986.0,944.2 988.0,944.8 C990.0,945.4 992.0,946.0 994.0,946.5 C996.0,947.1 998.0,947.7 1000.0,948.3 C1002.0,948.8 1004.0,949.4 1006.0,949.9 C1008.0,950.5 1010.0,951.1 1012.0,951.6 C1014.0,952.2 1016.0,952.7 1018.0,953.3 C1020.0,953.8 1022.0,954.4 1024.0,955.0 C1026.0,955.5 1028.0,956.1 1030.0,956.6 C1032.0,957.1 1034.0,957.7 1036.0,958.2 C1038.1,958.8 1040.1,959.3 1042.1,959.9 C1044.1,960.4 1046.1,961.0 1048.1,961.5 C1050.1,962.0 1052.1,962.6 1054.1,963.1 C1056.1,963.7 1058.1,964.2 1060.1,964.7 C1062.1,965.3 1064.1,965.8 1066.1,966.4 C1068.1,966.9 1070.1,967.4 1072.1,968.0 C1074.1,968.5 1076.1,969.1 1078.1,969.6 C1080.1,970.1 1082.1,970.7 1084.1,971.2 C1086.1,971.8 1088.1,972.3 1090.1,972.8 C1092.1,973.4 1094.2,973.9 1096.2,974.4 C1098.2,975.0 1100.2,975.5 1102.2,976.1 C1104.2,976.6 1106.2,977.1 1108.2,977.7 C1110.2,978.2 1112.2,978.8 1114.2,979.3 C1116.2,979.8 1118.2,980.4 1120.2,980.9 C1122.2,981.5 1124.2,982.0 1126.2,982.6 C1128.2,983.1 1130.2,983.7 1132.2,984.2 C1134.2,984.7 1136.2,985.3 1138.2,985.8 C1140.2,986.4 1142.2,986.9 1144.2,987.5 C1146.2,988.0 1148.2,988.6 1150.3,989.1 C1152.3,989.7 1154.3,990.2 1156.3,990.8 C1158.3,991.3 1160.3,991.9 1162.3,992.4 C1164.3,993.0 1166.3,993.5 1168.3,994.1 C1170.3,994.7 1172.3,995.2 1174.3,995.8 C1176.3,996.3 1178.3,996.9 1180.3,997.4 C1182.3,998.0 1184.3,998.6 1186.3,999.1 C1188.3,999.7 1190.3,1000.2 1192.3,1000.8 C1194.3,1001.4 1196.3,1001.9 1198.3,1002.5 C1200.3,1003.1 1202.3,1003.6 1204.3,1004.2 C1206.4,1004.8 1208.4,1005.3 1210.4,1005.9 C1212.4,1006.5 1214.4,1007.0 1216.4,1007.6 C1218.4,1008.2 1220.4,1008.7 1222.4,1009.3 C1224.4,1009.9 1226.4,1010.4 1228.4,1011.0 C1230.4,1011.6 1232.4,1012.1 1234.4,1012.7 C1236.4,1013.3 1238.4,1013.9 1240.4,1014.4 C1242.4,1015.0 1244.4,1015.6 1246.4,1016.2 C1248.4,1016.7 1250.4,1017.3 1252.4,1017.9 C1254.4,1018.4 1256.4,1019.0 1258.4,1019.6 C1260.4,1020.2 1262.5,1020.7 1264.5,1021.3 C1266.5,1021.9 1268.5,1022.5 1270.5,1023.0 C1272.5,1023.6 1274.5,1024.2 1276.5,1024.8 C1278.5,1025.3 1280.5,1025.9 1282.5,1026.5 C1284.5,1027.1 1286.5,1027.7 1288.5,1028.2 C1290.5,1028.8 1292.5,1029.4 1294.5,1030.0 C1296.5,1030.5 1298.5,1031.1 1300.5,1031.7 C1302.5,1032.3 1304.5,1032.8 1306.5,1033.4 C1308.5,1034.0 1310.5,1034.6 1312.5,1035.1 C1314.5,1035.7 1316.5,1036.3 1318.6,1036.9 C1320.6,1037.4 1322.6,1038.0 1324.6,1038.6 C1326.6,1039.1 1328.6,1039.7 1330.6,1040.3 C1332.6,1040.9 1334.6,1041.4 1336.6,1042.0 C1338.6,1042.6 1340.6,1043.1 1342.6,1043.7 C1344.6,1044.3 1346.6,1044.9 1348.6,1045.4 C1350.6,1046.0 1352.6,1046.6 1354.6,1047.1 C1356.6,1047.7 1358.6,1048.3 1360.6,1048.8 C1362.6,1049.4 1364.6,1050.0 1366.6,1050.5 C1368.6,1051.1 1370.6,1051.7 1372.6,1052.2 C1374.7,1052.8 1376.7,1053.3 1378.7,1053.9 C1380.7,1054.5 1382.7,1055.0 1384.7,1055.6 C1386.7,1056.2 1388.7,1056.7 1390.7,1057.3 C1392.7,1057.8 1394.7,1058.4 1396.7,1058.9 C1398.7,1059.5 1400.7,1060.1 1402.7,1060.6 C1404.7,1061.2 1406.7,1061.7 1408.7,1062.3 C1410.7,1062.8 1412.7,1063.4 1414.7,1063.9 C1416.7,1064.5 1418.7,1065.0 1420.7,1065.6 C1422.7,1066.1 1424.7,1066.7 1426.7,1067.2 C1428.7,1067.8 1430.8,1068.3 1432.8,1068.8 C1434.8,1069.4 1436.8,1069.9 1438.8,1070.5 C1440.8,1071.0 1442.8,1071.6 1444.8,1072.1 C1446.8,1072.6 1448.8,1073.2 1450.8,1073.7 C1452.8,1074.2 1454.8,1074.8 1456.8,1075.3 C1458.8,1075.9 1460.8,1076.4 1462.8,1076.9 C1464.8,1077.4 1466.8,1078.0 1468.8,1078.5 C1470.8,1079.0 1472.8,1079.6 1474.8,1080.1 C1476.8,1080.6 1478.8,1081.1 1480.8,1081.7 C1482.8,1082.2 1484.8,1082.7 1486.9,1083.2 C1488.9,1083.8 1490.9,1084.3 1492.9,1084.8 C1494.9,1085.3 1496.9,1085.8 1498.9,1086.4 C1500.9,1086.9 1502.9,1087.4 1504.9,1087.9 C1506.9,1088.4 1508.9,1088.9 1510.9,1089.4 C1512.9,1089.9 1514.9,1090.5 1516.9,1091.0 C1518.9,1091.5 1520.9,1092.0 1522.9,1092.5 C1524.9,1093.0 1526.9,1093.5 1528.9,1094.0 C1530.9,1094.5 1532.9,1095.0 1534.9,1095.5 C1536.9,1096.0 1538.9,1096.5 1540.9,1097.0 C1543.0,1097.5 1545.0,1098.0 1547.0,1098.5 C1549.0,1099.0 1551.0,1099.5 1553.0,1100.0 C1555.0,1100.4 1557.0,1100.9 1559.0,1101.4 C1561.0,1101.9 1563.0,1102.4 1565.0,1102.9 C1567.0,1103.4 1570.0,1104.1 1571.0,1104.3" stroke="#802aa6" stroke-width="7.5"/>
<path d="M332.8,854.4 C333.8,854.8 336.8,855.9 338.8,856.6 C340.8,857.4 342.8,858.1 344.8,858.8 C346.8,859.6 348.8,860.3 350.8,861.0 C352.9,861.8 354.9,862.5 356.9,863.2 C358.9,863.9 360.9,864.7 362.9,865.4 C364.9,866.1 366.9,866.8 368.9,867.5 C370.9,868.2 372.9,869.0 374.9,869.7 C376.9,870.4 378.9,871.1 380.9,871.8 C382.9,872.5 384.9,873.2 386.9,874.0 C388.9,874.7 391.0,875.4 393.0,876.1 C395.0,876.8 397.0,877.5 399.0,878.2 C401.0,878.9 403.0,879.6 405.0,880.3 C407.0,881.0 409.0,881.7 411.0,882.4 C413.0,883.1 415.0,883.8 417.0,884.5 C419.0,885.2 421.0,885.9 423.0,886.6 C425.0,887.3 427.0,888.0 429.1,888.7 C431.1,889.4 433.1,890.1 435.1,890.7 C437.1,891.4 439.1,892.1 441.1,892.8 C443.1,893.5 445.1,894.2 447.1,894.9 C449.1,895.5 451.1,896.2 453.1,896.9 C455.1,897.6 457.1,898.3 459.1,899.0 C461.1,899.6 463.1,900.3 465.1,901.0 C467.2,901.7 469.2,902.3 471.2,903.0 C473.2,903.7 475.2,904.4 477.2,905.0 C479.2,905.7 481.2,906.4 483.2,907.1 C485.2,907.7 487.2,908.4 489.2,909.1 C491.2,909.7 493.2,910.4 495.2,911.1 C497.2,911.7 499.2,912.4 501.2,913.1 C503.2,913.7 505.2,914.4 507.3,915.1 C509.3,915.7 511.3,916.4 513.3,917.1 C515.3,917.7 517.3,918.4 519.3,919.0 C521.3,919.7 523.3,920.4 525.3,921.0 C527.3,921.7 529.3,922.3 531.3,923.0 C533.3,923.7 535.3,924.3 537.3,925.0 C539.3,925.6 541.3,926.3 543.3,927.0 C545.4,927.6 547.4,928.3 549.4,928.9 C551.4,929.6 553.4,930.2 555.4,930.9 C557.4,931.5 559.4,932.2 561.4,932.9 C563.4,933.5 565.4,934.2 567.4,934.8 C569.4,935.5 571.4,936.1 573.4,936.8 C575.4,937.5 577.4,938.1 579.4,938.8 C581.4,939.4 583.5,940.1 585.5,940.8 C587.5,941.4 589.5,942.1 591.5,942.7 C593.5,943.4 595.5,944.1 597.5,944.7 C599.5,945.4 601.5,946.1 603.5,946.7 C605.5,947.4 607.5,948.1 609.5,948.8 C611.5,949.4 613.5,950.1 615.5,950.8 C617.5,951.5 619.5,952.2 621.6,952.8 C623.6,953.5 625.6,954.2 627.6,954.9 C629.6,955.6 631.6,956.3 633.6,957.0 C635.6,957.7 637.6,958.4 639.6,959.1 C641.6,959.8 643.6,960.6 645.6,961.3 C647.6,962.0 649.6,962.7 651.6,963.5 C653.6,964.2 655.6,965.0 657.6,965.7 C659.7,966.5 661.7,967.2 663.7,968.0 C665.7,968.8 667.7,969.6 669.7,970.4 C671.7,971.2 673.7,972.0 675.7,972.8 C677.7,973.6 679.7,974.4 681.7,975.3 C683.7,976.1 685.7,977.0 687.7,977.9 C689.7,978.7 691.7,979.6 693.7,980.5 C695.7,981.4 697.8,982.3 699.8,983.3 C701.8,984.2 703.8,985.2 705.8,986.1 C707.8,987.1 709.8,988.1 711.8,989.1 C713.8,990.1 715.8,991.1 717.8,992.2 C719.8,993.2 721.8,994.3 723.8,995.4 C725.8,996.4 727.8,997.5 729.8,998.7 C731.8,999.8 733.8,1000.9 735.9,1002.1 C737.9,1003.2 739.9,1004.4 741.9,1005.6 C743.9,1006.8 745.9,1008.0 747.9,1009.2 C749.9,1010.4 751.9,1011.7 753.9,1012.9 C755.9,1014.1 757.9,1015.4 759.9,1016.7 C761.9,1017.9 763.9,1019.2 765.9,1020.5 C767.9,1021.7 769.9,1023.0 771.9,1024.3 C774.0,1025.6 776.0,1026.9 778.0,1028.1 C780.0,1029.4 782.0,1030.7 784.0,1032.0 C786.0,1033.2 788.0,1034.5 790.0,1035.7 C792.0,1037.0 794.0,1038.2 796.0,1039.5 C798.0,1040.7 800.0,1041.9 802.0,1043.1 C804.0,1044.3 806.0,1045.5 808.0,1046.7 C810.0,1047.8 812.0,1049.0 814.1,1050.1 C816.1,1051.2 818.1,1052.4 820.1,1053.4 C822.1,1054.5 824.1,1055.6 826.1,1056.7 C828.1,1057.7 830.1,1058.8 832.1,1059.8 C834.1,1060.8 836.1,1061.8 838.1,1062.8 C840.1,1063.7 842.1,1064.7 844.1,1065.6 C846.1,1066.6 848.1,1067.5 850.1,1068.4 C852.2,1069.3 854.2,1070.2 856.2,1071.0 C858.2,1071.9 860.2,1072.8 862.2,1073.6 C864.2,1074.4 866.2,1075.3 868.2,1076.1 C870.2,1076.9 872.2,1077.7 874.2,1078.5 C876.2,1079.2 878.2,1080.0 880.2,1080.8 C882.2,1081.5 884.2,1082.3 886.2,1083.0 C888.2,1083.8 890.3,1084.5 892.3,1085.2 C894.3,1085.9 896.3,1086.7 898.3,1087.4 C900.3,1088.1 902.3,1088.8 904.3,1089.5 C906.3,1090.1 908.3,1090.8 910.3,1091.5 C912.3,1092.2 914.3,1092.9 916.3,1093.5 C918.3,1094.2 920.3,1094.9 922.3,1095.5 C924.3,1096.2 926.3,1096.8 928.4,1097.5 C930.4,1098.1 932.4,1098.8 934.4,1099.4 C936.4,1100.0 938.4,1100.7 940.4,1101.3 C942.4,1101.9 944.4,1102.6 946.4,1103.2 C948.4,1103.8 950.4,1104.5 952.4,1105.1 C954.4,1105.7 956.4,1106.3 958.4,1106.9 C960.4,1107.6 962.4,1108.2 964.4,1108.8 C966.5,1109.4 968.5,1110.0 970.5,1110.6 C972.5,1111.3 974.5,1111.9 976.5,1112.5 C978.5,1113.1 980.5,1113.7 982.5,1114.3 C984.5,1114.9 986.5,1115.5 988.5,1116.1 C990.5,1116.7 992.5,1117.4 994.5,1118.0 C996.5,1118.6 998.5,1119.2 1000.5,1119.8 C1002.5,1120.4 1004.6,1121.0 1006.6,1121.6 C1008.6,1122.2 1010.6,1122.8 1012.6,1123.4 C1014.6,1124.0 1016.6,1124.6 1018.6,1125.2 C1020.6,1125.8 1022.6,1126.4 1024.6,1127.0 C1026.6,1127.6 1028.6,1128.2 1030.6,1128.8 C1032.6,1129.4 1034.6,1130.0 1036.6,1130.6 C1038.6,1131.2 1040.6,1131.8 1042.7,1132.5 C1044.7,1133.1 1046.7,1133.7 1048.7,1134.3 C1050.7,1134.9 1052.7,1135.5 1054.7,1136.1 C1056.7,1136.7 1058.7,1137.3 1060.7,1137.9 C1062.7,1138.5 1064.7,1139.1 1066.7,1139.7 C1068.7,1140.3 1070.7,1140.9 1072.7,1141.5 C1074.7,1142.1 1076.7,1142.7 1078.7,1143.3 C1080.8,1143.9 1082.8,1144.5 1084.8,1145.2 C1086.8,1145.8 1088.8,1146.4 1090.8,1147.0 C1092.8,1147.6 1094.8,1148.2 1096.8,1148.8 C1098.8,1149.4 1100.8,1150.0 1102.8,1150.6 C1104.8,1151.2 1106.8,1151.9 1108.8,1152.5 C1110.8,1153.1 1112.8,1153.7 1114.8,1154.3 C1116.8,1154.9 1118.8,1155.5 1120.9,1156.1 C1122.9,1156.8 1124.9,1157.4 1126.9,1158.0 C1128.9,1158.6 1130.9,1159.2 1132.9,1159.8 C1134.9,1160.4 1136.9,1161.1 1138.9,1161.7 C1140.9,1162.3 1142.9,1162.9 1144.9,1163.5 C1146.9,1164.1 1148.9,1164.8 1150.9,1165.4 C1152.9,1166.0 1154.9,1166.6 1156.9,1167.2 C1159.0,1167.9 1161.0,1168.5 1163.0,1169.1 C1165.0,1169.7 1167.0,1170.4 1169.0,1171.0 C1171.0,1171.6 1173.0,1172.2 1175.0,1172.8 C1177.0,1173.5 1179.0,1174.1 1181.0,1174.7 C1183.0,1175.4 1185.0,1176.0 1187.0,1176.6 C1189.0,1177.2 1191.0,1177.9 1193.0,1178.5 C1195.0,1179.1 1197.1,1179.8 1199.1,1180.4 C1201.1,1181.0 1203.1,1181.6 1205.1,1182.3 C1207.1,1182.9 1209.1,1183.5 1211.1,1184.2 C1213.1,1184.8 1215.1,1185.5 1217.1,1186.1 C1219.1,1186.7 1221.1,1187.4 1223.1,1188.0 C1225.1,1188.6 1227.1,1189.3 1229.1,1189.9 C1231.1,1190.6 1233.1,1191.2 1235.2,1191.8 C1237.2,1192.5 1239.2,1193.1 1241.2,1193.8 C1243.2,1194.4 1245.2,1195.1 1247.2,1195.7 C1249.2,1196.3 1251.2,1197.0 1253.2,1197.6 C1255.2,1198.3 1257.2,1198.9 1259.2,1199.6 C1261.2,1200.2 1263.2,1200.9 1265.2,1201.5 C1267.2,1202.2 1269.2,1202.8 1271.2,1203.5 C1273.3,1204.1 1275.3,1204.8 1277.3,1205.5 C1279.3,1206.1 1281.3,1206.8 1283.3,1207.4 C1285.3,1208.1 1287.3,1208.7 1289.3,1209.4 C1291.3,1210.1 1293.3,1210.7 1295.3,1211.4 C1297.3,1212.0 1299.3,1212.7 1301.3,1213.4 C1303.3,1214.0 1305.3,1214.7 1307.3,1215.4 C1309.3,1216.0 1311.4,1216.7 1313.4,1217.4 C1315.4,1218.0 1317.4,1218.7 1319.4,1219.4 C1321.4,1220.0 1323.4,1220.7 1325.4,1221.4 C1327.4,1222.1 1329.4,1222.7 1331.4,1223.4 C1333.4,1224.1 1335.4,1224.8 1337.4,1225.4 C1339.4,1226.1 1341.4,1226.8 1343.4,1227.5 C1345.4,1228.1 1347.4,1228.8 1349.5,1229.5 C1351.5,1230.2 1353.5,1230.9 1355.5,1231.6 C1357.5,1232.2 1359.5,1232.9 1361.5,1233.6 C1363.5,1234.3 1365.5,1235.0 1367.5,1235.7 C1369.5,1236.4 1371.5,1237.1 1373.5,1237.8 C1375.5,1238.4 1377.5,1239.1 1379.5,1239.8 C1381.5,1240.5 1383.5,1241.2 1385.5,1241.9 C1387.6,1242.6 1389.6,1243.3 1391.6,1244.0 C1393.6,1244.7 1395.6,1245.4 1397.6,1246.1 C1399.6,1246.8 1401.6,1247.5 1403.6,1248.2 C1405.6,1248.9 1407.6,1249.7 1409.6,1250.4 C1411.6,1251.1 1413.6,1251.8 1415.6,1252.5 C1417.6,1253.2 1419.6,1253.9 1421.6,1254.6 C1423.6,1255.3 1425.6,1256.1 1427.7,1256.8 C1429.7,1257.5 1431.7,1258.2 1433.7,1258.9 C1435.7,1259.6 1437.7,1260.4 1439.7,1261.1 C1441.7,1261.8 1443.7,1262.5 1445.7,1263.3 C1447.7,1264.0 1449.7,1264.7 1451.7,1265.4 C1453.7,1266.2 1455.7,1266.9 1457.7,1267.6 C1459.7,1268.4 1461.7,1269.1 1463.7,1269.8 C1465.8,1270.6 1467.8,1271.3 1469.8,1272.0 C1471.8,1272.8 1473.8,1273.5 1475.8,1274.3 C1477.8,1275.0 1479.8,1275.7 1481.8,1276.5 C1483.8,1277.2 1485.8,1278.0 1487.8,1278.7 C1489.8,1279.5 1491.8,1280.2 1493.8,1281.0 C1495.8,1281.7 1497.8,1282.5 1499.8,1283.2 C1501.8,1284.0 1503.9,1284.7 1505.9,1285.5 C1507.9,1286.3 1509.9,1287.0 1511.9,1287.8 C1513.9,1288.5 1515.9,1289.3 1517.9,1290.1 C1519.9,1290.8 1521.9,1291.6 1523.9,1292.4 C1525.9,1293.1 1527.9,1293.9 1529.9,1294.7 C1531.9,1295.4 1533.9,1296.2 1535.9,1297.0 C1537.9,1297.7 1539.9,1298.5 1542.0,1299.3 C1544.0,1300.1 1546.0,1300.9 1548.0,1301.6 C1550.0,1302.4 1552.0,1303.2 1554.0,1304.0 C1556.0,1304.8 1559.0,1306.0 1560.0,1306.3" stroke="#00b04a" stroke-width="8.0"/>
<path d="M332.8,1113.2 C333.8,1113.6 336.8,1114.7 338.8,1115.5 C340.8,1116.2 342.8,1116.9 344.8,1117.7 C346.8,1118.4 348.8,1119.2 350.8,1119.9 C352.8,1120.6 354.8,1121.4 356.8,1122.1 C358.8,1122.8 360.8,1123.5 362.9,1124.3 C364.9,1125.0 366.9,1125.7 368.9,1126.4 C370.9,1127.1 372.9,1127.8 374.9,1128.5 C376.9,1129.2 378.9,1129.9 380.9,1130.6 C382.9,1131.3 384.9,1132.0 386.9,1132.7 C388.9,1133.4 390.9,1134.1 392.9,1134.8 C394.9,1135.5 396.9,1136.2 398.9,1136.8 C400.9,1137.5 402.9,1138.2 404.9,1138.9 C406.9,1139.5 408.9,1140.2 410.9,1140.9 C412.9,1141.5 414.9,1142.2 416.9,1142.8 C419.0,1143.5 421.0,1144.1 423.0,1144.8 C425.0,1145.4 427.0,1146.1 429.0,1146.7 C431.0,1147.4 433.0,1148.0 435.0,1148.7 C437.0,1149.3 439.0,1149.9 441.0,1150.6 C443.0,1151.2 445.0,1151.8 447.0,1152.4 C449.0,1153.1 451.0,1153.7 453.0,1154.3 C455.0,1154.9 457.0,1155.5 459.0,1156.1 C461.0,1156.8 463.0,1157.4 465.0,1158.0 C467.0,1158.6 469.0,1159.2 471.0,1159.8 C473.0,1160.4 475.1,1161.0 477.1,1161.6 C479.1,1162.2 481.1,1162.8 483.1,1163.3 C485.1,1163.9 487.1,1164.5 489.1,1165.1 C491.1,1165.7 493.1,1166.3 495.1,1166.8 C497.1,1167.4 499.1,1168.0 501.1,1168.6 C503.1,1169.1 505.1,1169.7 507.1,1170.3 C509.1,1170.8 511.1,1171.4 513.1,1172.0 C515.1,1172.5 517.1,1173.1 519.1,1173.6 C521.1,1174.2 523.1,1174.8 525.1,1175.3 C527.1,1175.9 529.1,1176.4 531.2,1177.0 C533.2,1177.5 535.2,1178.1 537.2,1178.6 C539.2,1179.1 541.2,1179.7 543.2,1180.2 C545.2,1180.8 547.2,1181.3 549.2,1181.8 C551.2,1182.4 553.2,1182.9 555.2,1183.4 C557.2,1184.0 559.2,1184.5 561.2,1185.0 C563.2,1185.6 565.2,1186.1 567.2,1186.6 C569.2,1187.1 571.2,1187.7 573.2,1188.2 C575.2,1188.7 577.2,1189.2 579.2,1189.7 C581.2,1190.3 583.2,1190.8 585.2,1191.3 C587.3,1191.8 589.3,1192.4 591.3,1192.9 C593.3,1193.4 595.3,1193.9 597.3,1194.4 C599.3,1195.0 601.3,1195.5 603.3,1196.0 C605.3,1196.5 607.3,1197.1 609.3,1197.6 C611.3,1198.1 613.3,1198.6 615.3,1199.2 C617.3,1199.7 619.3,1200.2 621.3,1200.8 C623.3,1201.3 625.3,1201.8 627.3,1202.4 C629.3,1202.9 631.3,1203.5 633.3,1204.0 C635.3,1204.6 637.3,1205.1 639.3,1205.7 C641.3,1206.2 643.4,1206.8 645.4,1207.4 C647.4,1208.0 649.4,1208.5 651.4,1209.1 C653.4,1209.7 655.4,1210.3 657.4,1210.9 C659.4,1211.5 661.4,1212.2 663.4,1212.8 C665.4,1213.4 667.4,1214.1 669.4,1214.7 C671.4,1215.4 673.4,1216.0 675.4,1216.7 C677.4,1217.4 679.4,1218.1 681.4,1218.8 C683.4,1219.5 685.4,1220.3 687.4,1221.0 C689.4,1221.8 691.4,1222.6 693.4,1223.3 C695.4,1224.1 697.4,1224.9 699.5,1225.8 C701.5,1226.6 703.5,1227.5 705.5,1228.3 C707.5,1229.2 709.5,1230.1 711.5,1231.0 C713.5,1231.9 715.5,1232.9 717.5,1233.9 C719.5,1234.8 721.5,1235.8 723.5,1236.8 C725.5,1237.8 727.5,1238.9 729.5,1239.9 C731.5,1241.0 733.5,1242.0 735.5,1243.1 C737.5,1244.2 739.5,1245.3 741.5,1246.4 C743.5,1247.5 745.5,1248.6 747.5,1249.8 C749.5,1250.9 751.5,1252.1 753.5,1253.2 C755.6,1254.4 757.6,1255.5 759.6,1256.7 C761.6,1257.8 763.6,1259.0 765.6,1260.1 C767.6,1261.2 769.6,1262.4 771.6,1263.5 C773.6,1264.6 775.6,1265.7 777.6,1266.8 C779.6,1267.9 781.6,1269.0 783.6,1270.1 C785.6,1271.1 787.6,1272.2 789.6,1273.2 C791.6,1274.2 793.6,1275.2 795.6,1276.2 C797.6,1277.2 799.6,1278.1 801.6,1279.1 C803.6,1280.0 805.6,1280.9 807.6,1281.8 C809.6,1282.6 811.7,1283.5 813.7,1284.3 C815.7,1285.1 817.7,1285.9 819.7,1286.7 C821.7,1287.5 823.7,1288.2 825.7,1289.0 C827.7,1289.7 829.7,1290.4 831.7,1291.1 C833.7,1291.8 835.7,1292.4 837.7,1293.1 C839.7,1293.7 841.7,1294.4 843.7,1295.0 C845.7,1295.6 847.7,1296.2 849.7,1296.7 C851.7,1297.3 853.7,1297.9 855.7,1298.4 C857.7,1299.0 859.7,1299.5 861.7,1300.0 C863.7,1300.5 865.7,1301.0 867.8,1301.5 C869.8,1302.0 871.8,1302.5 873.8,1302.9 C875.8,1303.4 877.8,1303.9 879.8,1304.3 C881.8,1304.8 883.8,1305.2 885.8,1305.7 C887.8,1306.1 889.8,1306.5 891.8,1306.9 C893.8,1307.4 895.8,1307.8 897.8,1308.2 C899.8,1308.6 901.8,1309.0 903.8,1309.4 C905.8,1309.8 907.8,1310.2 909.8,1310.6 C911.8,1310.9 913.8,1311.3 915.8,1311.7 C917.8,1312.1 919.8,1312.5 921.8,1312.8 C923.9,1313.2 925.9,1313.6 927.9,1313.9 C929.9,1314.3 931.9,1314.7 933.9,1315.0 C935.9,1315.4 937.9,1315.7 939.9,1316.1 C941.9,1316.5 943.9,1316.8 945.9,1317.2 C947.9,1317.5 949.9,1317.9 951.9,1318.2 C953.9,1318.6 955.9,1318.9 957.9,1319.3 C959.9,1319.6 961.9,1319.9 963.9,1320.3 C965.9,1320.6 967.9,1321.0 969.9,1321.3 C971.9,1321.7 973.9,1322.0 975.9,1322.3 C977.9,1322.7 979.9,1323.0 982.0,1323.3 C984.0,1323.7 986.0,1324.0 988.0,1324.4 C990.0,1324.7 992.0,1325.0 994.0,1325.4 C996.0,1325.7 998.0,1326.0 1000.0,1326.4 C1002.0,1326.7 1004.0,1327.0 1006.0,1327.4 C1008.0,1327.7 1010.0,1328.0 1012.0,1328.4 C1014.0,1328.7 1016.0,1329.0 1018.0,1329.4 C1020.0,1329.7 1022.0,1330.0 1024.0,1330.4 C1026.0,1330.7 1028.0,1331.0 1030.0,1331.4 C1032.0,1331.7 1034.0,1332.0 1036.0,1332.4 C1038.1,1332.7 1040.1,1333.0 1042.1,1333.4 C1044.1,1333.7 1046.1,1334.0 1048.1,1334.4 C1050.1,1334.7 1052.1,1335.0 1054.1,1335.4 C1056.1,1335.7 1058.1,1336.0 1060.1,1336.4 C1062.1,1336.7 1064.1,1337.0 1066.1,1337.4 C1068.1,1337.7 1070.1,1338.1 1072.1,1338.4 C1074.1,1338.7 1076.1,1339.1 1078.1,1339.4 C1080.1,1339.7 1082.1,1340.1 1084.1,1340.4 C1086.1,1340.7 1088.1,1341.1 1090.1,1341.4 C1092.1,1341.8 1094.2,1342.1 1096.2,1342.4 C1098.2,1342.8 1100.2,1343.1 1102.2,1343.5 C1104.2,1343.8 1106.2,1344.1 1108.2,1344.5 C1110.2,1344.8 1112.2,1345.2 1114.2,1345.5 C1116.2,1345.8 1118.2,1346.2 1120.2,1346.5 C1122.2,1346.9 1124.2,1347.2 1126.2,1347.6 C1128.2,1347.9 1130.2,1348.3 1132.2,1348.6 C1134.2,1349.0 1136.2,1349.3 1138.2,1349.7 C1140.2,1350.0 1142.2,1350.3 1144.2,1350.7 C1146.2,1351.0 1148.2,1351.4 1150.3,1351.8 C1152.3,1352.1 1154.3,1352.5 1156.3,1352.8 C1158.3,1353.2 1160.3,1353.5 1162.3,1353.9 C1164.3,1354.2 1166.3,1354.6 1168.3,1354.9 C1170.3,1355.3 1172.3,1355.7 1174.3,1356.0 C1176.3,1356.4 1178.3,1356.7 1180.3,1357.1 C1182.3,1357.5 1184.3,1357.8 1186.3,1358.2 C1188.3,1358.5 1190.3,1358.9 1192.3,1359.3 C1194.3,1359.6 1196.3,1360.0 1198.3,1360.4 C1200.3,1360.7 1202.3,1361.1 1204.3,1361.5 C1206.4,1361.8 1208.4,1362.2 1210.4,1362.6 C1212.4,1363.0 1214.4,1363.3 1216.4,1363.7 C1218.4,1364.1 1220.4,1364.5 1222.4,1364.8 C1224.4,1365.2 1226.4,1365.6 1228.4,1366.0 C1230.4,1366.3 1232.4,1366.7 1234.4,1367.1 C1236.4,1367.5 1238.4,1367.9 1240.4,1368.3 C1242.4,1368.6 1244.4,1369.0 1246.4,1369.4 C1248.4,1369.8 1250.4,1370.2 1252.4,1370.6 C1254.4,1371.0 1256.4,1371.4 1258.4,1371.8 C1260.4,1372.2 1262.5,1372.5 1264.5,1372.9 C1266.5,1373.3 1268.5,1373.7 1270.5,1374.1 C1272.5,1374.5 1274.5,1374.9 1276.5,1375.3 C1278.5,1375.7 1280.5,1376.1 1282.5,1376.6 C1284.5,1377.0 1286.5,1377.4 1288.5,1377.8 C1290.5,1378.2 1292.5,1378.6 1294.5,1379.0 C1296.5,1379.4 1298.5,1379.8 1300.5,1380.2 C1302.5,1380.7 1304.5,1381.1 1306.5,1381.5 C1308.5,1381.9 1310.5,1382.3 1312.5,1382.8 C1314.5,1383.2 1316.5,1383.6 1318.6,1384.0 C1320.6,1384.5 1322.6,1384.9 1324.6,1385.3 C1326.6,1385.7 1328.6,1386.2 1330.6,1386.6 C1332.6,1387.0 1334.6,1387.5 1336.6,1387.9 C1338.6,1388.4 1340.6,1388.8 1342.6,1389.2 C1344.6,1389.7 1346.6,1390.1 1348.6,1390.6 C1350.6,1391.0 1352.6,1391.5 1354.6,1391.9 C1356.6,1392.4 1358.6,1392.8 1360.6,1393.3 C1362.6,1393.7 1364.6,1394.2 1366.6,1394.6 C1368.6,1395.1 1370.6,1395.5 1372.6,1396.0 C1374.7,1396.5 1376.7,1396.9 1378.7,1397.4 C1380.7,1397.9 1382.7,1398.3 1384.7,1398.8 C1386.7,1399.3 1388.7,1399.7 1390.7,1400.2 C1392.7,1400.7 1394.7,1401.2 1396.7,1401.7 C1398.7,1402.1 1400.7,1402.6 1402.7,1403.1 C1404.7,1403.6 1406.7,1404.1 1408.7,1404.6 C1410.7,1405.0 1412.7,1405.5 1414.7,1406.0 C1416.7,1406.5 1418.7,1407.0 1420.7,1407.5 C1422.7,1408.0 1424.7,1408.5 1426.7,1409.0 C1428.7,1409.5 1430.8,1410.0 1432.8,1410.5 C1434.8,1411.0 1436.8,1411.5 1438.8,1412.1 C1440.8,1412.6 1442.8,1413.1 1444.8,1413.6 C1446.8,1414.1 1448.8,1414.6 1450.8,1415.2 C1452.8,1415.7 1454.8,1416.2 1456.8,1416.7 C1458.8,1417.3 1460.8,1417.8 1462.8,1418.3 C1464.8,1418.9 1466.8,1419.4 1468.8,1419.9 C1470.8,1420.5 1472.8,1421.0 1474.8,1421.6 C1476.8,1422.1 1478.8,1422.7 1480.8,1423.2 C1482.8,1423.7 1484.8,1424.3 1486.9,1424.9 C1488.9,1425.4 1490.9,1426.0 1492.9,1426.5 C1494.9,1427.1 1496.9,1427.7 1498.9,1428.2 C1500.9,1428.8 1502.9,1429.4 1504.9,1429.9 C1506.9,1430.5 1508.9,1431.1 1510.9,1431.7 C1512.9,1432.2 1514.9,1432.8 1516.9,1433.4 C1518.9,1434.0 1520.9,1434.6 1522.9,1435.2 C1524.9,1435.7 1526.9,1436.3 1528.9,1436.9 C1530.9,1437.5 1532.9,1438.1 1534.9,1438.7 C1536.9,1439.3 1538.9,1439.9 1540.9,1440.5 C1543.0,1441.1 1545.0,1441.8 1547.0,1442.4 C1549.0,1443.0 1551.0,1443.6 1553.0,1444.2 C1555.0,1444.8 1557.0,1445.5 1559.0,1446.1 C1561.0,1446.7 1563.0,1447.3 1565.0,1448.0 C1567.0,1448.6 1570.0,1449.6 1571.0,1449.9" stroke="#446220" stroke-width="7.0"/>
<path d="M332.8,1259.2 C333.8,1259.6 336.8,1260.7 338.8,1261.5 C340.8,1262.2 342.8,1263.0 344.8,1263.7 C346.8,1264.5 348.8,1265.2 350.8,1265.9 C352.8,1266.7 354.8,1267.4 356.8,1268.1 C358.8,1268.9 360.8,1269.6 362.9,1270.3 C364.9,1271.0 366.9,1271.8 368.9,1272.5 C370.9,1273.2 372.9,1273.9 374.9,1274.7 C376.9,1275.4 378.9,1276.1 380.9,1276.8 C382.9,1277.5 384.9,1278.2 386.9,1278.9 C388.9,1279.6 390.9,1280.3 392.9,1281.0 C394.9,1281.7 396.9,1282.4 398.9,1283.1 C400.9,1283.8 402.9,1284.5 404.9,1285.2 C406.9,1285.9 408.9,1286.6 410.9,1287.3 C412.9,1288.0 414.9,1288.7 416.9,1289.4 C419.0,1290.1 421.0,1290.7 423.0,1291.4 C425.0,1292.1 427.0,1292.8 429.0,1293.5 C431.0,1294.1 433.0,1294.8 435.0,1295.5 C437.0,1296.2 439.0,1296.8 441.0,1297.5 C443.0,1298.2 445.0,1298.8 447.0,1299.5 C449.0,1300.2 451.0,1300.8 453.0,1301.5 C455.0,1302.1 457.0,1302.8 459.0,1303.4 C461.0,1304.1 463.0,1304.8 465.0,1305.4 C467.0,1306.1 469.0,1306.7 471.0,1307.4 C473.0,1308.0 475.1,1308.7 477.1,1309.3 C479.1,1309.9 481.1,1310.6 483.1,1311.2 C485.1,1311.9 487.1,1312.5 489.1,1313.2 C491.1,1313.8 493.1,1314.4 495.1,1315.1 C497.1,1315.7 499.1,1316.3 501.1,1317.0 C503.1,1317.6 505.1,1318.2 507.1,1318.8 C509.1,1319.5 511.1,1320.1 513.1,1320.7 C515.1,1321.4 517.1,1322.0 519.1,1322.6 C521.1,1323.2 523.1,1323.8 525.1,1324.5 C527.1,1325.1 529.1,1325.7 531.2,1326.3 C533.2,1326.9 535.2,1327.6 537.2,1328.2 C539.2,1328.8 541.2,1329.4 543.2,1330.0 C545.2,1330.7 547.2,1331.3 549.2,1331.9 C551.2,1332.5 553.2,1333.1 555.2,1333.7 C557.2,1334.3 559.2,1335.0 561.2,1335.6 C563.2,1336.2 565.2,1336.8 567.2,1337.4 C569.2,1338.0 571.2,1338.7 573.2,1339.3 C575.2,1339.9 577.2,1340.5 579.2,1341.1 C581.2,1341.8 583.2,1342.4 585.2,1343.0 C587.3,1343.7 589.3,1344.3 591.3,1344.9 C593.3,1345.5 595.3,1346.2 597.3,1346.8 C599.3,1347.5 601.3,1348.1 603.3,1348.8 C605.3,1349.4 607.3,1350.1 609.3,1350.7 C611.3,1351.4 613.3,1352.0 615.3,1352.7 C617.3,1353.4 619.3,1354.1 621.3,1354.8 C623.3,1355.4 625.3,1356.1 627.3,1356.8 C629.3,1357.5 631.3,1358.3 633.3,1359.0 C635.3,1359.7 637.3,1360.4 639.3,1361.2 C641.3,1361.9 643.4,1362.7 645.4,1363.5 C647.4,1364.3 649.4,1365.1 651.4,1365.9 C653.4,1366.7 655.4,1367.5 657.4,1368.3 C659.4,1369.2 661.4,1370.0 663.4,1370.9 C665.4,1371.8 667.4,1372.6 669.4,1373.6 C671.4,1374.5 673.4,1375.4 675.4,1376.3 C677.4,1377.3 679.4,1378.3 681.4,1379.2 C683.4,1380.2 685.4,1381.2 687.4,1382.3 C689.4,1383.3 691.4,1384.3 693.4,1385.4 C695.4,1386.4 697.4,1387.5 699.5,1388.6 C701.5,1389.7 703.5,1390.8 705.5,1391.9 C707.5,1393.0 709.5,1394.1 711.5,1395.3 C713.5,1396.4 715.5,1397.5 717.5,1398.7 C719.5,1399.8 721.5,1401.0 723.5,1402.1 C725.5,1403.3 727.5,1404.4 729.5,1405.6 C731.5,1406.7 733.5,1407.8 735.5,1409.0 C737.5,1410.1 739.5,1411.2 741.5,1412.3 C743.5,1413.4 745.5,1414.5 747.5,1415.6 C749.5,1416.7 751.5,1417.7 753.5,1418.8 C755.6,1419.8 757.6,1420.8 759.6,1421.8 C761.6,1422.8 763.6,1423.8 765.6,1424.8 C767.6,1425.7 769.6,1426.7 771.6,1427.6 C773.6,1428.5 775.6,1429.4 777.6,1430.3 C779.6,1431.1 781.6,1432.0 783.6,1432.8 C785.6,1433.6 787.6,1434.4 789.6,1435.2 C791.6,1436.0 793.6,1436.8 795.6,1437.6 C797.6,1438.3 799.6,1439.0 801.6,1439.8 C803.6,1440.5 805.6,1441.2 807.6,1441.9 C809.6,1442.5 811.7,1443.2 813.7,1443.9 C815.7,1444.5 817.7,1445.2 819.7,1445.8 C821.7,1446.4 823.7,1447.0 825.7,1447.7 C827.7,1448.3 829.7,1448.9 831.7,1449.4 C833.7,1450.0 835.7,1450.6 837.7,1451.2 C839.7,1451.7 841.7,1452.3 843.7,1452.9 C845.7,1453.4 847.7,1454.0 849.7,1454.5 C851.7,1455.0 853.7,1455.6 855.7,1456.1 C857.7,1456.6 859.7,1457.1 861.7,1457.6 C863.7,1458.2 865.7,1458.7 867.8,1459.2 C869.8,1459.7 871.8,1460.2 873.8,1460.7 C875.8,1461.2 877.8,1461.7 879.8,1462.2 C881.8,1462.7 883.8,1463.1 885.8,1463.6 C887.8,1464.1 889.8,1464.6 891.8,1465.1 C893.8,1465.5 895.8,1466.0 897.8,1466.5 C899.8,1467.0 901.8,1467.4 903.8,1467.9 C905.8,1468.4 907.8,1468.8 909.8,1469.3 C911.8,1469.8 913.8,1470.2 915.8,1470.7 C917.8,1471.2 919.8,1471.6 921.8,1472.1 C923.9,1472.5 925.9,1473.0 927.9,1473.4 C929.9,1473.9 931.9,1474.3 933.9,1474.8 C935.9,1475.3 937.9,1475.7 939.9,1476.2 C941.9,1476.6 943.9,1477.1 945.9,1477.5 C947.9,1478.0 949.9,1478.4 951.9,1478.8 C953.9,1479.3 955.9,1479.7 957.9,1480.2 C959.9,1480.6 961.9,1481.1 963.9,1481.5 C965.9,1482.0 967.9,1482.4 969.9,1482.8 C971.9,1483.3 973.9,1483.7 975.9,1484.2 C977.9,1484.6 979.9,1485.0 982.0,1485.5 C984.0,1485.9 986.0,1486.4 988.0,1486.8 C990.0,1487.2 992.0,1487.7 994.0,1488.1 C996.0,1488.6 998.0,1489.0 1000.0,1489.4 C1002.0,1489.9 1004.0,1490.3 1006.0,1490.7 C1008.0,1491.2 1010.0,1491.6 1012.0,1492.0 C1014.0,1492.5 1016.0,1492.9 1018.0,1493.3 C1020.0,1493.8 1022.0,1494.2 1024.0,1494.6 C1026.0,1495.1 1028.0,1495.5 1030.0,1495.9 C1032.0,1496.4 1034.0,1496.8 1036.0,1497.2 C1038.1,1497.7 1040.1,1498.1 1042.1,1498.5 C1044.1,1499.0 1046.1,1499.4 1048.1,1499.8 C1050.1,1500.3 1052.1,1500.7 1054.1,1501.1 C1056.1,1501.6 1058.1,1502.0 1060.1,1502.4 C1062.1,1502.8 1064.1,1503.3 1066.1,1503.7 C1068.1,1504.1 1070.1,1504.6 1072.1,1505.0 C1074.1,1505.4 1076.1,1505.9 1078.1,1506.3 C1080.1,1506.7 1082.1,1507.1 1084.1,1507.6 C1086.1,1508.0 1088.1,1508.4 1090.1,1508.9 C1092.1,1509.3 1094.2,1509.7 1096.2,1510.2 C1098.2,1510.6 1100.2,1511.0 1102.2,1511.4 C1104.2,1511.9 1106.2,1512.3 1108.2,1512.7 C1110.2,1513.2 1112.2,1513.6 1114.2,1514.0 C1116.2,1514.4 1118.2,1514.9 1120.2,1515.3 C1122.2,1515.7 1124.2,1516.2 1126.2,1516.6 C1128.2,1517.0 1130.2,1517.4 1132.2,1517.9 C1134.2,1518.3 1136.2,1518.7 1138.2,1519.2 C1140.2,1519.6 1142.2,1520.0 1144.2,1520.5 C1146.2,1520.9 1148.2,1521.3 1150.3,1521.7 C1152.3,1522.2 1154.3,1522.6 1156.3,1523.0 C1158.3,1523.5 1160.3,1523.9 1162.3,1524.3 C1164.3,1524.8 1166.3,1525.2 1168.3,1525.6 C1170.3,1526.0 1172.3,1526.5 1174.3,1526.9 C1176.3,1527.3 1178.3,1527.8 1180.3,1528.2 C1182.3,1528.6 1184.3,1529.1 1186.3,1529.5 C1188.3,1529.9 1190.3,1530.4 1192.3,1530.8 C1194.3,1531.2 1196.3,1531.7 1198.3,1532.1 C1200.3,1532.5 1202.3,1533.0 1204.3,1533.4 C1206.4,1533.8 1208.4,1534.3 1210.4,1534.7 C1212.4,1535.1 1214.4,1535.6 1216.4,1536.0 C1218.4,1536.4 1220.4,1536.9 1222.4,1537.3 C1224.4,1537.7 1226.4,1538.2 1228.4,1538.6 C1230.4,1539.1 1232.4,1539.5 1234.4,1539.9 C1236.4,1540.4 1238.4,1540.8 1240.4,1541.2 C1242.4,1541.7 1244.4,1542.1 1246.4,1542.6 C1248.4,1543.0 1250.4,1543.4 1252.4,1543.9 C1254.4,1544.3 1256.4,1544.8 1258.4,1545.2 C1260.4,1545.6 1262.5,1546.1 1264.5,1546.5 C1266.5,1547.0 1268.5,1547.4 1270.5,1547.9 C1272.5,1548.3 1274.5,1548.7 1276.5,1549.2 C1278.5,1549.6 1280.5,1550.1 1282.5,1550.5 C1284.5,1551.0 1286.5,1551.4 1288.5,1551.9 C1290.5,1552.3 1292.5,1552.8 1294.5,1553.2 C1296.5,1553.6 1298.5,1554.1 1300.5,1554.5 C1302.5,1555.0 1304.5,1555.4 1306.5,1555.9 C1308.5,1556.3 1310.5,1556.8 1312.5,1557.2 C1314.5,1557.7 1316.5,1558.1 1318.6,1558.6 C1320.6,1559.1 1322.6,1559.5 1324.6,1560.0 C1326.6,1560.4 1328.6,1560.9 1330.6,1561.3 C1332.6,1561.8 1334.6,1562.2 1336.6,1562.7 C1338.6,1563.1 1340.6,1563.6 1342.6,1564.1 C1344.6,1564.5 1346.6,1565.0 1348.6,1565.4 C1350.6,1565.9 1352.6,1566.4 1354.6,1566.8 C1356.6,1567.3 1358.6,1567.7 1360.6,1568.2 C1362.6,1568.7 1364.6,1569.1 1366.6,1569.6 C1368.6,1570.1 1370.6,1570.5 1372.6,1571.0 C1374.7,1571.5 1376.7,1571.9 1378.7,1572.4 C1380.7,1572.9 1382.7,1573.3 1384.7,1573.8 C1386.7,1574.3 1388.7,1574.8 1390.7,1575.2 C1392.7,1575.7 1394.7,1576.2 1396.7,1576.6 C1398.7,1577.1 1400.7,1577.6 1402.7,1578.1 C1404.7,1578.5 1406.7,1579.0 1408.7,1579.5 C1410.7,1580.0 1412.7,1580.4 1414.7,1580.9 C1416.7,1581.4 1418.7,1581.9 1420.7,1582.4 C1422.7,1582.8 1424.7,1583.3 1426.7,1583.8 C1428.7,1584.3 1430.8,1584.8 1432.8,1585.3 C1434.8,1585.8 1436.8,1586.2 1438.8,1586.7 C1440.8,1587.2 1442.8,1587.7 1444.8,1588.2 C1446.8,1588.7 1448.8,1589.2 1450.8,1589.7 C1452.8,1590.2 1454.8,1590.6 1456.8,1591.1 C1458.8,1591.6 1460.8,1592.1 1462.8,1592.6 C1464.8,1593.1 1466.8,1593.6 1468.8,1594.1 C1470.8,1594.6 1472.8,1595.1 1474.8,1595.6 C1476.8,1596.1 1478.8,1596.6 1480.8,1597.1 C1482.8,1597.6 1484.8,1598.1 1486.9,1598.6 C1488.9,1599.1 1490.9,1599.7 1492.9,1600.2 C1494.9,1600.7 1496.9,1601.2 1498.9,1601.7 C1500.9,1602.2 1502.9,1602.7 1504.9,1603.2 C1506.9,1603.7 1508.9,1604.3 1510.9,1604.8 C1512.9,1605.3 1514.9,1605.8 1516.9,1606.3 C1518.9,1606.8 1520.9,1607.4 1522.9,1607.9 C1524.9,1608.4 1526.9,1608.9 1528.9,1609.4 C1530.9,1610.0 1532.9,1610.5 1534.9,1611.0 C1536.9,1611.5 1538.9,1612.1 1540.9,1612.6 C1543.0,1613.1 1545.0,1613.7 1547.0,1614.2 C1549.0,1614.7 1551.0,1615.3 1553.0,1615.8 C1555.0,1616.3 1557.0,1616.9 1559.0,1617.4 C1561.0,1617.9 1563.0,1618.5 1565.0,1619.0 C1567.0,1619.6 1570.0,1620.4 1571.0,1620.7" stroke="#0074cc" stroke-width="8.0"/>
<path d="M333.5,1346.6 C334.2,1346.9 336.2,1348.0 337.5,1348.8 C338.8,1349.5 340.2,1350.2 341.5,1350.9 C342.8,1351.7 344.2,1352.4 345.5,1353.1 C346.8,1353.9 348.2,1354.6 349.5,1355.3 C350.8,1356.0 352.2,1356.8 353.5,1357.5 C354.9,1358.2 356.2,1358.9 357.5,1359.7 C358.9,1360.4 360.2,1361.1 361.5,1361.8 C362.9,1362.6 364.2,1363.3 365.5,1364.0 C366.9,1364.7 368.2,1365.4 369.5,1366.2 C370.9,1366.9 372.2,1367.6 373.5,1368.3 C374.9,1369.0 376.2,1369.7 377.5,1370.5 C378.9,1371.2 380.2,1371.9 381.5,1372.6 C382.9,1373.3 384.2,1374.0 385.5,1374.8 C386.9,1375.5 388.2,1376.2 389.5,1376.9 C390.9,1377.6 392.2,1378.3 393.5,1379.0 C394.9,1379.7 396.2,1380.5 397.6,1381.2 C398.9,1381.9 400.2,1382.6 401.6,1383.3 C402.9,1384.0 404.2,1384.7 405.6,1385.5 C406.9,1386.2 408.2,1386.9 409.6,1387.6 C410.9,1388.3 412.2,1389.0 413.6,1389.7 C414.9,1390.4 416.2,1391.1 417.6,1391.9 C418.9,1392.6 420.2,1393.3 421.6,1394.0 C422.9,1394.7 424.2,1395.4 425.6,1396.1 C426.9,1396.8 428.2,1397.6 429.6,1398.3 C430.9,1399.0 432.2,1399.7 433.6,1400.4 C434.9,1401.1 436.2,1401.8 437.6,1402.6 C438.9,1403.3 440.3,1404.0 441.6,1404.7 C442.9,1405.4 444.3,1406.1 445.6,1406.8 C446.9,1407.6 448.3,1408.3 449.6,1409.0 C450.9,1409.7 452.3,1410.4 453.6,1411.1 C454.9,1411.9 456.3,1412.6 457.6,1413.3 C458.9,1414.0 460.3,1414.7 461.6,1415.5 C462.9,1416.2 464.3,1416.9 465.6,1417.6 C466.9,1418.3 468.3,1419.1 469.6,1419.8 C470.9,1420.5 472.3,1421.2 473.6,1422.0 C474.9,1422.7 476.3,1423.4 477.6,1424.1 C479.0,1424.9 480.3,1425.6 481.6,1426.3 C483.0,1427.0 484.3,1427.8 485.6,1428.5 C487.0,1429.2 488.3,1430.0 489.6,1430.7 C491.0,1431.4 492.3,1432.2 493.6,1432.9 C495.0,1433.6 496.3,1434.4 497.6,1435.1 C499.0,1435.8 500.3,1436.6 501.6,1437.3 C503.0,1438.0 504.3,1438.8 505.6,1439.5 C507.0,1440.3 508.3,1441.0 509.6,1441.8 C511.0,1442.5 512.3,1443.2 513.6,1444.0 C515.0,1444.7 516.3,1445.5 517.6,1446.2 C519.0,1447.0 520.3,1447.7 521.7,1448.5 C523.0,1449.2 524.3,1450.0 525.7,1450.7 C527.0,1451.5 528.3,1452.2 529.7,1453.0 C531.0,1453.7 532.3,1454.5 533.7,1455.3 C535.0,1456.0 536.3,1456.8 537.7,1457.5 C539.0,1458.3 540.3,1459.1 541.7,1459.8 C543.0,1460.6 544.3,1461.3 545.7,1462.1 C547.0,1462.9 548.3,1463.6 549.7,1464.4 C551.0,1465.2 552.3,1465.9 553.7,1466.7 C555.0,1467.5 556.3,1468.2 557.7,1469.0 C559.0,1469.8 560.4,1470.5 561.7,1471.3 C563.0,1472.1 564.4,1472.8 565.7,1473.6 C567.0,1474.4 568.4,1475.2 569.7,1475.9 C571.0,1476.7 572.4,1477.5 573.7,1478.3 C575.0,1479.0 576.4,1479.8 577.7,1480.6 C579.0,1481.4 580.4,1482.1 581.7,1482.9 C583.0,1483.7 584.4,1484.5 585.7,1485.3 C587.0,1486.0 588.4,1486.8 589.7,1487.6 C591.0,1488.4 592.4,1489.2 593.7,1490.0 C595.0,1490.7 596.4,1491.5 597.7,1492.3 C599.0,1493.1 600.4,1493.9 601.7,1494.7 C603.1,1495.5 604.4,1496.2 605.7,1497.0 C607.1,1497.8 608.4,1498.6 609.7,1499.4 C611.1,1500.2 612.4,1501.0 613.7,1501.8 C615.1,1502.6 616.4,1503.4 617.7,1504.1 C619.1,1504.9 620.4,1505.7 621.7,1506.5 C623.1,1507.3 624.4,1508.1 625.7,1508.9 C627.1,1509.7 628.4,1510.5 629.7,1511.3 C631.1,1512.1 632.4,1512.9 633.7,1513.7 C635.1,1514.5 636.4,1515.3 637.7,1516.1 C639.1,1516.9 640.4,1517.7 641.7,1518.5 C643.1,1519.3 644.4,1520.1 645.8,1520.9 C647.1,1521.7 648.4,1522.5 649.8,1523.3 C651.1,1524.1 652.4,1524.9 653.8,1525.7 C655.1,1526.5 656.4,1527.3 657.8,1528.1 C659.1,1528.9 660.4,1529.7 661.8,1530.5 C663.1,1531.4 664.4,1532.2 665.8,1533.0 C667.1,1533.8 668.4,1534.6 669.8,1535.4 C671.1,1536.2 672.4,1537.1 673.8,1537.9 C675.1,1538.7 676.4,1539.5 677.8,1540.3 C679.1,1541.2 680.4,1542.0 681.8,1542.8 C683.1,1543.6 684.5,1544.5 685.8,1545.3 C687.1,1546.1 688.5,1546.9 689.8,1547.8 C691.1,1548.6 692.5,1549.4 693.8,1550.3 C695.1,1551.1 696.5,1552.0 697.8,1552.8 C699.1,1553.6 700.5,1554.5 701.8,1555.3 C703.1,1556.2 704.5,1557.0 705.8,1557.9 C707.1,1558.7 708.5,1559.6 709.8,1560.4 C711.1,1561.3 712.5,1562.1 713.8,1562.9 C715.1,1563.8 716.5,1564.6 717.8,1565.5 C719.1,1566.3 720.5,1567.1 721.8,1567.9 C723.1,1568.7 724.5,1569.6 725.8,1570.4 C727.2,1571.2 728.5,1571.9 729.8,1572.7 C731.2,1573.5 732.5,1574.3 733.8,1575.0 C735.2,1575.8 736.5,1576.5 737.8,1577.3 C739.2,1578.0 740.5,1578.7 741.8,1579.4 C743.2,1580.1 744.5,1580.8 745.8,1581.5 C747.2,1582.1 748.5,1582.8 749.8,1583.4 C751.2,1584.0 752.5,1584.6 753.8,1585.2 C755.2,1585.8 756.5,1586.4 757.8,1586.9 C759.2,1587.5 760.5,1588.0 761.8,1588.5 C763.2,1589.1 764.5,1589.6 765.8,1590.1 C767.2,1590.6 768.5,1591.1 769.9,1591.5 C771.2,1592.0 772.5,1592.5 773.9,1592.9 C775.2,1593.4 776.5,1593.8 777.9,1594.2 C779.2,1594.7 780.5,1595.1 781.9,1595.5 C783.2,1596.0 784.5,1596.4 785.9,1596.8 C787.2,1597.2 788.5,1597.6 789.9,1598.0 C791.2,1598.5 792.5,1598.9 793.9,1599.3 C795.2,1599.7 796.5,1600.1 797.9,1600.5 C799.2,1600.9 800.5,1601.3 801.9,1601.8 C803.2,1602.2 804.5,1602.6 805.9,1603.0 C807.2,1603.4 808.6,1603.9 809.9,1604.3 C811.2,1604.7 812.6,1605.2 813.9,1605.6 C815.2,1606.0 816.6,1606.5 817.9,1606.9 C819.2,1607.3 820.6,1607.8 821.9,1608.2 C823.2,1608.7 824.6,1609.1 825.9,1609.5 C827.2,1610.0 828.6,1610.4 829.9,1610.9 C831.2,1611.3 832.6,1611.8 833.9,1612.2 C835.2,1612.7 836.6,1613.1 837.9,1613.5 C839.2,1614.0 840.6,1614.4 841.9,1614.9 C843.2,1615.3 844.6,1615.8 845.9,1616.2 C847.2,1616.6 848.6,1617.1 849.9,1617.5 C851.3,1618.0 852.6,1618.4 853.9,1618.8 C855.3,1619.3 856.6,1619.7 857.9,1620.2 C859.3,1620.6 860.6,1621.0 861.9,1621.4 C863.3,1621.9 864.6,1622.3 865.9,1622.7 C867.3,1623.1 868.6,1623.6 869.9,1624.0 C871.3,1624.4 872.6,1624.8 873.9,1625.2 C875.3,1625.6 876.6,1626.0 877.9,1626.5 C879.3,1626.9 880.6,1627.3 881.9,1627.7 C883.3,1628.0 884.6,1628.4 885.9,1628.8 C887.3,1629.2 888.6,1629.6 889.9,1630.0 C891.3,1630.4 892.6,1630.7 894.0,1631.1 C895.3,1631.5 896.6,1631.8 898.0,1632.2 C899.3,1632.6 900.6,1632.9 902.0,1633.3 C903.3,1633.7 904.6,1634.0 906.0,1634.4 C907.3,1634.7 908.6,1635.1 910.0,1635.4 C911.3,1635.8 912.6,1636.1 914.0,1636.5 C915.3,1636.8 916.6,1637.1 918.0,1637.5 C919.3,1637.8 920.6,1638.1 922.0,1638.5 C923.3,1638.8 924.6,1639.1 926.0,1639.5 C927.3,1639.8 928.6,1640.1 930.0,1640.4 C931.3,1640.8 932.7,1641.1 934.0,1641.4 C935.3,1641.7 936.7,1642.0 938.0,1642.3 C939.3,1642.7 940.7,1643.0 942.0,1643.3 C943.3,1643.6 944.7,1643.9 946.0,1644.2 C947.3,1644.5 948.7,1644.8 950.0,1645.1 C951.3,1645.4 952.7,1645.7 954.0,1646.0 C955.3,1646.3 956.7,1646.6 958.0,1646.9 C959.3,1647.2 960.7,1647.5 962.0,1647.8 C963.3,1648.1 964.7,1648.4 966.0,1648.7 C967.3,1649.0 968.7,1649.3 970.0,1649.6 C971.3,1649.9 972.7,1650.2 974.0,1650.5 C975.4,1650.8 976.7,1651.1 978.0,1651.4 C979.4,1651.7 980.7,1652.0 982.0,1652.3 C983.4,1652.6 984.7,1652.8 986.0,1653.1 C987.4,1653.4 988.7,1653.7 990.0,1654.0 C991.4,1654.3 992.7,1654.6 994.0,1654.9 C995.4,1655.2 996.7,1655.5 998.0,1655.8 C999.4,1656.1 1000.7,1656.4 1002.0,1656.7 C1003.4,1657.0 1004.7,1657.3 1006.0,1657.6 C1007.4,1657.9 1008.7,1658.1 1010.0,1658.4 C1011.4,1658.7 1012.7,1659.0 1014.1,1659.3 C1015.4,1659.6 1016.7,1659.9 1018.1,1660.2 C1019.4,1660.5 1020.7,1660.8 1022.1,1661.1 C1023.4,1661.4 1024.7,1661.7 1026.1,1662.0 C1027.4,1662.3 1028.7,1662.6 1030.1,1663.0 C1031.4,1663.3 1032.7,1663.6 1034.1,1663.9 C1035.4,1664.2 1036.7,1664.5 1038.1,1664.8 C1039.4,1665.1 1040.7,1665.4 1042.1,1665.7 C1043.4,1666.0 1044.7,1666.3 1046.1,1666.6 C1047.4,1666.9 1048.7,1667.2 1050.1,1667.5 C1051.4,1667.8 1052.7,1668.1 1054.1,1668.4 C1055.4,1668.7 1056.8,1669.0 1058.1,1669.3 C1059.4,1669.6 1060.8,1669.9 1062.1,1670.3 C1063.4,1670.6 1064.8,1670.9 1066.1,1671.2 C1067.4,1671.5 1068.8,1671.8 1070.1,1672.1 C1071.4,1672.4 1072.8,1672.7 1074.1,1673.0 C1075.4,1673.3 1076.8,1673.6 1078.1,1673.9 C1079.4,1674.2 1080.8,1674.5 1082.1,1674.8 C1083.4,1675.1 1084.8,1675.4 1086.1,1675.7 C1087.4,1676.1 1088.8,1676.4 1090.1,1676.7 C1091.4,1677.0 1092.8,1677.3 1094.1,1677.6 C1095.4,1677.9 1096.8,1678.2 1098.1,1678.5 C1099.5,1678.8 1100.8,1679.1 1102.1,1679.4 C1103.5,1679.7 1104.8,1680.0 1106.1,1680.3 C1107.5,1680.6 1108.8,1680.9 1110.1,1681.2 C1111.5,1681.5 1112.8,1681.8 1114.1,1682.1 C1115.5,1682.4 1116.8,1682.7 1118.1,1683.0 C1119.5,1683.3 1120.8,1683.6 1122.1,1683.9 C1123.5,1684.2 1124.8,1684.5 1126.1,1684.8 C1127.5,1685.1 1128.8,1685.4 1130.1,1685.7 C1131.5,1686.0 1132.8,1686.3 1134.1,1686.6 C1135.5,1686.9 1136.8,1687.2 1138.2,1687.5 C1139.5,1687.8 1140.8,1688.1 1142.2,1688.4 C1143.5,1688.7 1144.8,1689.0 1146.2,1689.3 C1147.5,1689.5 1148.8,1689.8 1150.2,1690.1 C1151.5,1690.4 1152.8,1690.7 1154.2,1691.0 C1155.5,1691.3 1156.8,1691.6 1158.2,1691.9 C1159.5,1692.2 1160.8,1692.4 1162.2,1692.7 C1163.5,1693.0 1164.8,1693.3 1166.2,1693.6 C1167.5,1693.9 1168.8,1694.2 1170.2,1694.4 C1171.5,1694.7 1172.8,1695.0 1174.2,1695.3 C1175.5,1695.6 1176.8,1695.9 1178.2,1696.1 C1179.5,1696.4 1180.9,1696.7 1182.2,1697.0 C1183.5,1697.2 1184.9,1697.5 1186.2,1697.8 C1187.5,1698.1 1188.9,1698.4 1190.2,1698.6 C1191.5,1698.9 1192.9,1699.2 1194.2,1699.4 C1195.5,1699.7 1196.9,1700.0 1198.2,1700.3 C1199.5,1700.5 1200.9,1700.8 1202.2,1701.1 C1203.5,1701.3 1204.9,1701.6 1206.2,1701.9 C1207.5,1702.1 1208.9,1702.4 1210.2,1702.7 C1211.5,1702.9 1212.9,1703.2 1214.2,1703.4 C1215.5,1703.7 1216.9,1704.0 1218.2,1704.2 C1219.5,1704.5 1220.9,1704.7 1222.2,1705.0 C1223.6,1705.3 1224.9,1705.5 1226.2,1705.8 C1227.6,1706.0 1228.9,1706.3 1230.2,1706.5 C1231.6,1706.8 1232.9,1707.0 1234.2,1707.3 C1235.6,1707.6 1236.9,1707.8 1238.2,1708.1 C1239.6,1708.3 1240.9,1708.6 1242.2,1708.8 C1243.6,1709.1 1244.9,1709.3 1246.2,1709.6 C1247.6,1709.8 1248.9,1710.1 1250.2,1710.3 C1251.6,1710.6 1252.9,1710.8 1254.2,1711.1 C1255.6,1711.3 1256.9,1711.6 1258.2,1711.8 C1259.6,1712.1 1260.9,1712.3 1262.3,1712.6 C1263.6,1712.8 1264.9,1713.1 1266.3,1713.3 C1267.6,1713.6 1268.9,1713.8 1270.3,1714.1 C1271.6,1714.3 1272.9,1714.6 1274.3,1714.8 C1275.6,1715.1 1276.9,1715.3 1278.3,1715.6 C1279.6,1715.8 1280.9,1716.0 1282.3,1716.3 C1283.6,1716.5 1284.9,1716.8 1286.3,1717.0 C1287.6,1717.3 1288.9,1717.5 1290.3,1717.8 C1291.6,1718.0 1292.9,1718.3 1294.3,1718.5 C1295.6,1718.8 1296.9,1719.0 1298.3,1719.3 C1299.6,1719.5 1300.9,1719.8 1302.3,1720.1 C1303.6,1720.3 1305.0,1720.6 1306.3,1720.8 C1307.6,1721.1 1309.0,1721.3 1310.3,1721.6 C1311.6,1721.8 1313.0,1722.1 1314.3,1722.3 C1315.6,1722.6 1317.0,1722.8 1318.3,1723.1 C1319.6,1723.4 1321.0,1723.6 1322.3,1723.9 C1323.6,1724.1 1325.0,1724.4 1326.3,1724.7 C1327.6,1724.9 1329.0,1725.2 1330.3,1725.4 C1331.6,1725.7 1333.0,1726.0 1334.3,1726.2 C1335.6,1726.5 1337.0,1726.8 1338.3,1727.0 C1339.6,1727.3 1341.0,1727.5 1342.3,1727.8 C1343.6,1728.1 1345.0,1728.4 1346.3,1728.6 C1347.7,1728.9 1349.0,1729.2 1350.3,1729.4 C1351.7,1729.7 1353.0,1730.0 1354.3,1730.3 C1355.7,1730.5 1357.0,1730.8 1358.3,1731.1 C1359.7,1731.4 1361.0,1731.6 1362.3,1731.9 C1363.7,1732.2 1365.0,1732.5 1366.3,1732.8 C1367.7,1733.1 1369.0,1733.3 1370.3,1733.6 C1371.7,1733.9 1373.0,1734.2 1374.3,1734.5 C1375.7,1734.8 1377.0,1735.1 1378.3,1735.4 C1379.7,1735.7 1381.0,1736.0 1382.3,1736.2 C1383.7,1736.5 1385.0,1736.8 1386.4,1737.1 C1387.7,1737.4 1389.0,1737.7 1390.4,1738.0 C1391.7,1738.4 1393.0,1738.7 1394.4,1739.0 C1395.7,1739.3 1397.0,1739.6 1398.4,1739.9 C1399.7,1740.2 1401.0,1740.5 1402.4,1740.8 C1403.7,1741.1 1405.0,1741.5 1406.4,1741.8 C1407.7,1742.1 1409.0,1742.4 1410.4,1742.7 C1411.7,1743.1 1413.0,1743.4 1414.4,1743.7 C1415.7,1744.0 1417.0,1744.4 1418.4,1744.7 C1419.7,1745.0 1421.0,1745.4 1422.4,1745.7 C1423.7,1746.0 1425.0,1746.3 1426.4,1746.7 C1427.7,1747.0 1429.1,1747.4 1430.4,1747.7 C1431.7,1748.0 1433.1,1748.4 1434.4,1748.7 C1435.7,1749.0 1437.1,1749.4 1438.4,1749.7 C1439.7,1750.1 1441.1,1750.4 1442.4,1750.7 C1443.7,1751.1 1445.1,1751.4 1446.4,1751.8 C1447.7,1752.1 1449.1,1752.4 1450.4,1752.8 C1451.7,1753.1 1453.1,1753.5 1454.4,1753.8 C1455.7,1754.2 1457.1,1754.5 1458.4,1754.8 C1459.7,1755.2 1461.1,1755.5 1462.4,1755.9 C1463.7,1756.2 1465.1,1756.6 1466.4,1756.9 C1467.8,1757.2 1469.1,1757.6 1470.4,1757.9 C1471.8,1758.3 1473.1,1758.6 1474.4,1759.0 C1475.8,1759.3 1477.1,1759.6 1478.4,1760.0 C1479.8,1760.3 1481.1,1760.7 1482.4,1761.0 C1483.8,1761.3 1485.1,1761.7 1486.4,1762.0 C1487.8,1762.4 1489.1,1762.7 1490.4,1763.0 C1491.8,1763.4 1493.1,1763.7 1494.4,1764.0 C1495.8,1764.4 1497.1,1764.7 1498.4,1765.0 C1499.8,1765.4 1501.1,1765.7 1502.4,1766.0 C1503.8,1766.4 1505.1,1766.7 1506.4,1767.0 C1507.8,1767.3 1509.1,1767.7 1510.5,1768.0 C1511.8,1768.3 1513.1,1768.6 1514.5,1768.9 C1515.8,1769.3 1517.1,1769.6 1518.5,1769.9 C1519.8,1770.2 1521.1,1770.5 1522.5,1770.8 C1523.8,1771.2 1525.1,1771.5 1526.5,1771.8 C1527.8,1772.1 1529.1,1772.4 1530.5,1772.7 C1531.8,1773.0 1533.1,1773.3 1534.5,1773.6 C1535.8,1773.9 1537.1,1774.2 1538.5,1774.5 C1539.8,1774.8 1541.1,1775.1 1542.5,1775.4 C1543.8,1775.6 1545.1,1775.9 1546.5,1776.2 C1547.8,1776.5 1549.1,1776.8 1550.5,1777.1 C1551.8,1777.3 1553.2,1777.6 1554.5,1777.9 C1555.8,1778.1 1557.2,1778.4 1558.5,1778.7 C1559.8,1778.9 1561.2,1779.2 1562.5,1779.5 C1563.8,1779.7 1565.2,1780.0 1566.5,1780.2 C1567.8,1780.5 1569.8,1780.8 1570.5,1781.0" stroke="#000000" stroke-width="8.5"/>
</g>
<g class="b" font-size="68" fill="#000">
<text transform="translate(305.40,2082.7) scale(1,1.035)">50</text>
<text transform="translate(607.60,2082.7) scale(1,1.035)">70</text>
<text transform="translate(887.70,2082.7) scale(1,1.035)">90</text>
<text transform="translate(1173.80,2082.7) scale(1,1.035)">110</text>
<text transform="translate(1471.00,2082.7) scale(1,1.035)">130</text>
<text transform="translate(1752.00,2082.7) scale(1,1.035)">150</text>
<text transform="translate(2034.40,2082.7) scale(1,1.035)">170</text>
</g>
<g class="b" font-size="63" fill="#000">
<text x="1765.43" y="732.8" textLength="195.88" lengthAdjust="spacingAndGlyphs">PMMA</text>
<text x="1692.92" y="915.2" textLength="376.86" lengthAdjust="spacingAndGlyphs">PHEMMA- 50</text>
<text x="1694.02" y="1131.6" textLength="376.86" lengthAdjust="spacingAndGlyphs">PHEMMA- 40</text>
<text x="1694.03" y="1324.2" textLength="375.75" lengthAdjust="spacingAndGlyphs">PHEMMA- 30</text>
<text x="1692.22" y="1491.2" textLength="376.46" lengthAdjust="spacingAndGlyphs">PHEMMA- 20</text>
<text x="1691.82" y="1665.1" textLength="376.86" lengthAdjust="spacingAndGlyphs">PHEMMA- 10</text>
<text x="1763.59" y="1834.0" textLength="211.12" lengthAdjust="spacingAndGlyphs">PHEMA</text>
</g>
<g class="b" font-size="72" fill="#000">
<text x="833.71" y="2233.8" textLength="426.88" lengthAdjust="spacingAndGlyphs">Temperature</text>
<text x="1280.88" y="2233.8" textLength="19.91" lengthAdjust="spacingAndGlyphs">(</text>
<text x="1332.83" y="2233.8" textLength="39.28" lengthAdjust="spacingAndGlyphs">C</text>
<text x="1377.40" y="2233.8" textLength="19.79" lengthAdjust="spacingAndGlyphs">)</text>
<text x="1304.27" y="2205.5" font-size="44" textLength="27.24" lengthAdjust="spacingAndGlyphs">o</text>
</g>
<g class="b" font-size="72" fill="#000">
<text transform="translate(125.3,1252.67) rotate(-90)" textLength="506.09" lengthAdjust="spacingAndGlyphs">Heat Flow (mV)</text>
<text transform="translate(125.3,567.05) rotate(-90)" textLength="114.80" lengthAdjust="spacingAndGlyphs">Exo</text>
<text transform="translate(125.3,1579.61) rotate(-90)" textLength="165.95" lengthAdjust="spacingAndGlyphs">Endo</text>
</g>
<g fill="#000">
<rect x="97.2" y="310" width="9.6" height="110.7"/>
<polygon points="102.2,279.7 118.8,310.5 86.2,310.5"/>
<rect x="97" y="581.8" width="9.6" height="81.6"/>
<rect x="92.9" y="1320.2" width="9.6" height="78"/>
<rect x="92" y="1596.5" width="9.6" height="110"/>
<polygon points="97.3,1738 113.4,1705.3 80.3,1705.3"/>
</g>
<circle cx="148.1" cy="1202.4" r="3.4" fill="#0070c0"/>
<g font-size="68" fill="#000">
<text transform="translate(851.4,343) scale(1,1.035)">Tg = 105 <tspan font-size="44" dy="-22.5">o</tspan><tspan dy="22.5">C</tspan></text>
<text transform="translate(524.6,1726.8) scale(1,1.035)">Tg = 83 <tspan font-size="44" dy="-21">o</tspan><tspan dy="21">C</tspan></text>
</g>
<g fill="#000" stroke="#000">
<line x1="992.5" y1="367" x2="1001.5" y2="430" stroke-width="8.5"/>
<polygon stroke="none" points="1005.5,457.6 1017.5,425.6 986.3,428.8"/>
<line x1="609.8" y1="1640.6" x2="655" y2="1594" stroke-width="8.5"/>
<polygon stroke="none" points="676,1571.5 644.3,1585 665.4,1605.1"/>
</g>
</svg></body></html>
